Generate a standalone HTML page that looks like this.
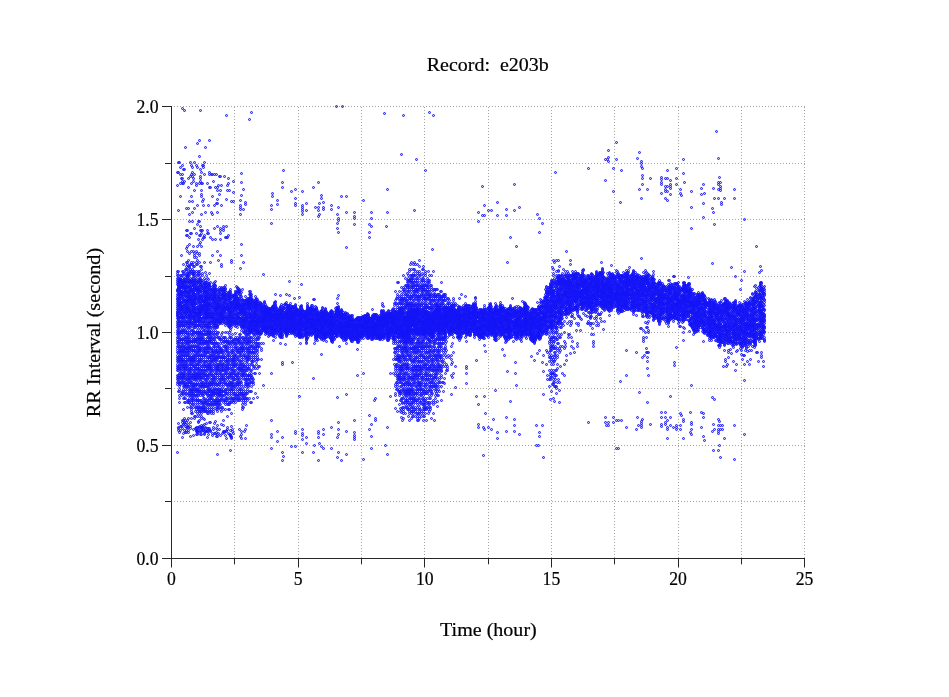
<!DOCTYPE html>
<html lang="en"><head><meta charset="utf-8"><title>Record: e203b</title>
<style>html,body{margin:0;padding:0;background:#fff}svg{display:block}</style></head>
<body>
<svg width="949" height="697" viewBox="0 0 949 697">
<defs><marker id="m" markerUnits="userSpaceOnUse" markerWidth="4" markerHeight="4" refX="2" refY="2" overflow="visible"><circle cx="2" cy="2" r="1.0" fill="#4a4aff" fill-opacity="0.3" stroke="#1414f6" stroke-width="0.97"/></marker></defs>
<rect width="949" height="697" fill="#fff"/>
<path d="M234.5 107v451M298.5 107v451M361.5 107v451M424.5 107v451M488.5 107v451M551.5 107v451M614.5 107v451M678.5 107v451M741.5 107v451M804.5 107v451M174 501.5H805M174 445.5H805M174 388.5H805M174 332.5H805M174 276.5H805M174 219.5H805M174 163.5H805M174 106.5H805" stroke="#a4a4a4" stroke-width="1" stroke-dasharray="1 2" fill="none" shape-rendering="crispEdges"/>
<path d="M171.5 106V567.5M162 558.5H805M165 501.5H172M162 445.5H172M165 388.5H172M162 332.5H172M165 276.5H172M162 219.5H172M165 163.5H172M162 106.5H172M234.5 558V564.3M298.5 558V567.5M361.5 558V564.3M424.5 558V567.5M488.5 558V564.3M551.5 558V567.5M614.5 558V564.3M678.5 558V567.5M741.5 558V564.3M804.5 558V567.5" stroke="#262626" stroke-width="1" fill="none"/>
<polyline transform="translate(.5 .5)" points="177,172 177,185 177,271 177,273 177,275 177,278 177,280 177,282 177,284 177,289 177,290 177,291 177,294 177,296 177,298 177,299 177,301 177,303 177,305 177,307 177,309 177,311 177,312 177,313 177,314 177,315 177,316 177,318 177,321 177,323 177,325 177,327 177,330 177,332 177,334 177,337 177,339 177,341 177,343 177,346 177,348 177,350 177,352 177,355 177,357 177,359 177,361 177,364 177,366 177,368 177,370 177,375 177,377 177,379 177,382 177,384 177,452 178,162 178,172 178,210 178,271 178,275 178,278 178,280 178,282 178,284 178,285 178,286 178,287 178,288 178,289 178,291 178,294 178,295 178,297 178,298 178,300 178,301 178,303 178,304 178,305 178,307 178,309 178,310 178,312 178,313 178,316 178,317 178,318 178,319 178,321 178,323 178,325 178,327 178,330 178,332 178,334 178,337 178,341 178,343 178,346 178,352 178,357 178,359 178,361 178,366 178,368 178,370 178,375 178,377 178,379 178,382 178,391 178,423 178,427 178,428 178,430 179,162 179,278 179,280 179,281 179,282 179,283 179,284 179,286 179,287 179,288 179,289 179,291 179,293 179,294 179,296 179,298 179,299 179,300 179,303 179,304 179,305 179,306 179,309 179,312 179,315 179,318 179,321 179,322 179,323 179,325 179,327 179,330 179,332 179,334 179,337 179,339 179,341 179,343 179,346 179,348 179,350 179,352 179,355 179,357 179,359 179,361 179,364 179,366 179,368 179,373 179,375 179,377 179,379 179,382 179,384 179,386 179,389 179,391 179,395 179,398 179,402 179,432 180,167 180,174 180,183 180,196 180,275 180,278 180,279 180,280 180,281 180,285 180,287 180,290 180,291 180,293 180,294 180,295 180,296 180,298 180,301 180,302 180,303 180,305 180,306 180,307 180,309 180,310 180,312 180,314 180,316 180,317 180,321 180,325 180,332 180,339 180,346 180,348 180,350 180,352 180,355 180,357 180,359 180,361 180,364 180,368 180,370 180,373 180,377 180,382 180,384 180,426 180,430 181,178 181,255 181,275 181,280 181,281 181,282 181,285 181,286 181,287 181,289 181,291 181,292 181,294 181,298 181,302 181,303 181,306 181,307 181,308 181,310 181,311 181,313 181,314 181,315 181,317 181,318 181,321 181,323 181,325 181,327 181,330 181,332 181,334 181,337 181,339 181,341 181,343 181,346 181,348 181,350 181,352 181,355 181,357 181,359 181,361 181,364 181,366 181,368 181,370 181,373 181,375 181,377 181,379 181,382 181,393 181,395 181,426 182,108 182,165 182,174 182,178 182,181 182,183 182,271 182,275 182,278 182,280 182,282 182,283 182,284 182,287 182,291 182,292 182,294 182,296 182,297 182,301 182,304 182,307 182,308 182,309 182,313 182,316 182,317 182,318 182,321 182,323 182,325 182,330 182,332 182,339 182,343 182,346 182,350 182,352 182,355 182,359 182,361 182,364 182,366 182,373 182,375 182,377 182,379 182,382 182,391 182,393 182,420 182,422 182,425 182,428 182,437 183,169 183,183 183,264 183,271 183,273 183,281 183,282 183,284 183,285 183,286 183,287 183,288 183,292 183,294 183,296 183,298 183,299 183,300 183,301 183,305 183,306 183,308 183,309 183,311 183,316 183,317 183,318 183,321 183,323 183,325 183,327 183,330 183,332 183,334 183,339 183,341 183,343 183,346 183,348 183,350 183,352 183,355 183,357 183,359 183,361 183,364 183,366 183,368 183,370 183,373 183,375 183,377 183,379 183,382 183,384 183,386 183,389 183,391 183,393 183,398 183,409 183,420 183,424 183,433 184,110 184,169 184,181 184,273 184,278 184,279 184,280 184,281 184,282 184,283 184,285 184,287 184,289 184,291 184,292 184,293 184,300 184,301 184,303 184,305 184,307 184,310 184,311 184,312 184,313 184,314 184,318 184,321 184,325 184,330 184,337 184,339 184,346 184,348 184,350 184,352 184,355 184,361 184,364 184,366 184,368 184,370 184,373 184,375 184,377 184,382 184,384 184,386 184,395 184,398 184,402 184,418 184,422 184,423 184,430 185,147 185,269 185,275 185,279 185,281 185,282 185,285 185,287 185,288 185,289 185,290 185,291 185,294 185,295 185,296 185,300 185,301 185,303 185,305 185,306 185,307 185,312 185,313 185,316 185,318 185,321 185,323 185,325 185,327 185,330 185,332 185,334 185,337 185,339 185,341 185,343 185,346 185,348 185,350 185,352 185,355 185,357 185,359 185,361 185,364 185,366 185,368 185,370 185,373 185,375 185,377 185,379 185,382 185,384 185,386 185,389 185,391 185,393 185,398 185,402 185,420 185,424 185,426 185,432 186,208 186,230 186,235 186,248 186,262 186,266 186,269 186,271 186,275 186,278 186,280 186,281 186,282 186,285 186,287 186,289 186,291 186,292 186,294 186,296 186,297 186,299 186,300 186,303 186,304 186,305 186,307 186,308 186,309 186,310 186,312 186,313 186,315 186,316 186,321 186,323 186,332 186,337 186,341 186,343 186,348 186,352 186,355 186,361 186,364 186,366 186,368 186,379 186,384 186,386 186,393 186,422 186,427 186,430 186,432 187,230 187,235 187,246 187,251 187,262 187,264 187,269 187,273 187,275 187,276 187,277 187,278 187,282 187,285 187,286 187,287 187,291 187,292 187,296 187,300 187,301 187,302 187,303 187,307 187,308 187,309 187,310 187,311 187,314 187,316 187,318 187,321 187,323 187,325 187,327 187,330 187,332 187,334 187,337 187,339 187,341 187,343 187,346 187,348 187,350 187,352 187,355 187,357 187,359 187,361 187,364 187,366 187,368 187,370 187,373 187,375 187,377 187,379 187,382 187,384 187,386 187,389 187,395 187,400 187,402 187,407 187,420 187,426 187,427 188,178 188,187 188,208 188,260 188,266 188,273 188,274 188,275 188,278 188,280 188,282 188,287 188,288 188,291 188,292 188,293 188,294 188,296 188,297 188,298 188,300 188,301 188,302 188,305 188,306 188,307 188,309 188,310 188,312 188,313 188,315 188,318 188,321 188,323 188,325 188,327 188,334 188,337 188,339 188,341 188,343 188,346 188,348 188,350 188,352 188,355 188,359 188,370 188,373 188,375 188,377 188,379 188,382 188,386 188,393 188,400 188,402 188,418 188,424 188,427 188,430 188,432 189,201 189,214 189,221 189,237 189,244 189,253 189,266 189,267 189,271 189,273 189,275 189,280 189,281 189,282 189,283 189,285 189,286 189,289 189,291 189,292 189,293 189,294 189,295 189,296 189,298 189,299 189,300 189,301 189,305 189,307 189,308 189,310 189,311 189,314 189,315 189,316 189,317 189,318 189,321 189,323 189,327 189,330 189,332 189,334 189,337 189,339 189,341 189,343 189,346 189,348 189,350 189,352 189,355 189,357 189,359 189,361 189,364 189,366 189,368 189,370 189,373 189,375 189,377 189,379 189,382 189,384 189,386 189,389 189,391 189,393 189,395 189,398 189,400 189,402 190,162 190,176 190,233 190,264 190,269 190,271 190,278 190,280 190,281 190,282 190,286 190,287 190,288 190,289 190,291 190,296 190,298 190,300 190,301 190,303 190,304 190,308 190,310 190,311 190,312 190,313 190,314 190,316 190,318 190,320 190,321 190,323 190,325 190,327 190,341 190,346 190,348 190,357 190,359 190,361 190,364 190,368 190,370 190,373 190,377 190,379 190,382 190,389 190,391 190,395 190,404 190,407 190,422 190,426 190,428 190,436 191,165 191,174 191,183 191,196 191,233 191,251 191,262 191,264 191,271 191,273 191,279 191,282 191,284 191,285 191,289 191,290 191,291 191,296 191,297 191,298 191,300 191,301 191,303 191,304 191,305 191,307 191,312 191,315 191,316 191,318 191,321 191,323 191,325 191,330 191,332 191,334 191,337 191,339 191,341 191,343 191,346 191,348 191,350 191,352 191,355 191,357 191,359 191,361 191,364 191,366 191,368 191,370 191,373 191,375 191,377 191,379 191,382 191,384 191,386 191,389 191,391 191,393 191,395 191,398 191,400 191,402 191,407 191,409 191,411 191,413 191,418 192,167 192,172 192,176 192,201 192,212 192,221 192,264 192,269 192,273 192,278 192,280 192,281 192,282 192,287 192,289 192,291 192,293 192,294 192,295 192,298 192,300 192,301 192,303 192,305 192,307 192,309 192,310 192,311 192,313 192,314 192,316 192,318 192,323 192,330 192,334 192,341 192,346 192,350 192,357 192,359 192,361 192,364 192,375 192,377 192,382 192,384 192,386 192,389 192,391 192,393 192,395 192,398 192,400 192,404 192,413 193,178 193,181 193,246 193,251 193,262 193,266 193,271 193,273 193,274 193,275 193,278 193,280 193,281 193,282 193,284 193,285 193,286 193,289 193,291 193,292 193,293 193,294 193,296 193,297 193,299 193,300 193,302 193,303 193,305 193,306 193,307 193,309 193,310 193,311 193,312 193,315 193,316 193,318 193,321 193,323 193,325 193,327 193,330 193,332 193,334 193,337 193,339 193,341 193,343 193,346 193,348 193,350 193,352 193,355 193,357 193,359 193,361 193,364 193,366 193,368 193,370 193,373 193,375 193,377 193,379 193,384 193,386 193,389 193,391 193,393 193,395 193,398 193,400 193,402 193,404 193,407 193,429 193,435 194,162 194,174 194,190 194,208 194,228 194,253 194,255 194,257 194,266 194,271 194,273 194,275 194,280 194,282 194,284 194,285 194,286 194,287 194,288 194,289 194,290 194,294 194,296 194,298 194,299 194,300 194,301 194,302 194,303 194,304 194,305 194,307 194,308 194,309 194,311 194,312 194,314 194,316 194,317 194,318 194,319 194,320 194,321 194,323 194,325 194,327 194,332 194,339 194,341 194,346 194,350 194,355 194,357 194,359 194,361 194,366 194,370 194,373 194,375 194,377 194,379 194,384 194,386 194,389 194,395 194,416 194,418 195,277 195,280 195,282 195,284 195,285 195,289 195,292 195,294 195,295 195,296 195,297 195,298 195,300 195,303 195,308 195,309 195,312 195,313 195,314 195,316 195,317 195,318 195,321 195,323 195,325 195,327 195,332 195,334 195,337 195,339 195,341 195,343 195,346 195,348 195,350 195,352 195,355 195,357 195,359 195,361 195,364 195,366 195,368 195,370 195,373 195,375 195,377 195,379 195,382 195,384 195,386 195,389 195,391 195,393 195,395 195,398 195,400 195,404 195,407 195,411 195,416 195,428 196,165 196,183 196,185 196,233 196,251 196,257 196,262 196,264 196,271 196,273 196,278 196,280 196,282 196,286 196,287 196,288 196,289 196,290 196,297 196,298 196,300 196,303 196,305 196,307 196,309 196,312 196,313 196,314 196,320 196,321 196,325 196,332 196,339 196,341 196,346 196,352 196,355 196,364 196,368 196,373 196,375 196,377 196,379 196,384 196,389 196,391 196,395 196,400 196,407 196,409 196,427 196,428 196,430 196,431 196,434 197,143 197,167 197,205 197,224 197,246 197,253 197,260 197,264 197,275 197,281 197,282 197,285 197,288 197,290 197,291 197,293 197,294 197,298 197,303 197,307 197,309 197,312 197,313 197,314 197,315 197,316 197,318 197,321 197,323 197,325 197,327 197,330 197,332 197,334 197,337 197,339 197,341 197,343 197,346 197,348 197,350 197,352 197,355 197,357 197,359 197,361 197,364 197,366 197,368 197,370 197,373 197,375 197,377 197,379 197,382 197,384 197,386 197,389 197,391 197,395 197,398 197,400 197,402 197,404 197,407 197,411 197,413 197,416 197,427 197,430 197,431 197,432 197,434 198,221 198,239 198,271 198,273 198,275 198,280 198,282 198,284 198,286 198,287 198,288 198,289 198,290 198,291 198,294 198,296 198,297 198,299 198,300 198,301 198,302 198,307 198,309 198,310 198,312 198,313 198,314 198,316 198,318 198,319 198,320 198,321 198,325 198,332 198,334 198,337 198,339 198,343 198,346 198,348 198,350 198,352 198,355 198,361 198,364 198,368 198,370 198,373 198,375 198,377 198,384 198,389 198,391 198,393 198,395 198,400 198,407 198,409 198,421 198,422 198,430 198,432 199,140 199,156 199,183 199,221 199,235 199,244 199,253 199,255 199,262 199,271 199,273 199,278 199,279 199,280 199,282 199,283 199,287 199,289 199,290 199,291 199,292 199,294 199,296 199,297 199,298 199,300 199,303 199,305 199,306 199,307 199,309 199,310 199,312 199,313 199,314 199,315 199,316 199,317 199,318 199,320 199,321 199,323 199,325 199,327 199,330 199,332 199,334 199,337 199,339 199,341 199,343 199,346 199,348 199,350 199,352 199,355 199,357 199,359 199,361 199,364 199,366 199,368 199,370 199,373 199,375 199,377 199,379 199,382 199,386 199,389 199,391 199,393 199,400 199,402 199,404 199,407 199,409 199,411 199,413 199,416 199,420 199,426 199,427 199,428 200,110 200,169 200,176 200,178 200,181 200,226 200,230 200,235 200,242 200,266 200,275 200,278 200,280 200,282 200,284 200,285 200,286 200,289 200,291 200,293 200,296 200,298 200,300 200,302 200,303 200,305 200,306 200,308 200,309 200,310 200,311 200,312 200,313 200,314 200,318 200,319 200,321 200,323 200,325 200,332 200,334 200,337 200,339 200,341 200,343 200,348 200,350 200,355 200,359 200,361 200,370 200,373 200,375 200,377 200,379 200,384 200,386 200,391 200,395 200,400 200,407 200,411 200,431 200,434 201,172 201,183 201,190 201,194 201,196 201,214 201,230 201,233 201,246 201,266 201,269 201,280 201,282 201,285 201,287 201,289 201,291 201,295 201,296 201,298 201,299 201,301 201,302 201,305 201,307 201,308 201,309 201,310 201,311 201,312 201,314 201,316 201,318 201,321 201,325 201,327 201,330 201,332 201,334 201,337 201,339 201,341 201,343 201,346 201,348 201,350 201,352 201,355 201,357 201,359 201,361 201,364 201,366 201,368 201,370 201,373 201,375 201,377 201,379 201,382 201,384 201,386 201,389 201,391 201,393 201,400 201,402 201,407 201,409 201,411 201,413 201,416 201,418 201,425 201,427 201,428 201,430 201,431 201,434 202,165 202,183 202,201 202,230 202,239 202,273 202,275 202,280 202,282 202,285 202,287 202,288 202,290 202,292 202,296 202,297 202,299 202,300 202,303 202,305 202,306 202,307 202,309 202,310 202,311 202,313 202,318 202,321 202,323 202,327 202,334 202,337 202,339 202,343 202,355 202,366 202,370 202,373 202,377 202,382 202,384 202,386 202,393 202,395 202,402 202,404 202,407 202,409 202,426 202,427 202,428 203,165 203,167 203,199 203,205 203,237 203,285 203,287 203,291 203,294 203,295 203,296 203,298 203,300 203,301 203,302 203,305 203,307 203,308 203,309 203,310 203,312 203,314 203,317 203,318 203,321 203,323 203,325 203,327 203,330 203,332 203,334 203,337 203,339 203,341 203,343 203,346 203,348 203,350 203,352 203,355 203,357 203,359 203,361 203,364 203,368 203,370 203,373 203,375 203,377 203,382 203,384 203,386 203,389 203,391 203,393 203,395 203,398 203,402 203,404 203,407 203,409 203,411 203,418 203,425 203,429 203,430 204,162 204,174 204,235 204,237 204,262 204,278 204,282 204,283 204,284 204,287 204,288 204,289 204,290 204,291 204,292 204,293 204,297 204,300 204,301 204,303 204,305 204,306 204,307 204,309 204,311 204,312 204,313 204,314 204,315 204,317 204,318 204,321 204,323 204,325 204,330 204,334 204,341 204,343 204,348 204,350 204,352 204,355 204,361 204,364 204,366 204,370 204,373 204,375 204,379 204,384 204,386 204,391 204,398 204,400 204,402 204,404 204,407 204,409 204,411 204,419 204,424 204,431 204,433 204,434 205,147 205,212 205,272 205,280 205,282 205,284 205,285 205,287 205,288 205,289 205,291 205,292 205,294 205,296 205,297 205,298 205,299 205,300 205,301 205,303 205,304 205,305 205,306 205,307 205,309 205,310 205,314 205,317 205,318 205,320 205,321 205,325 205,327 205,330 205,334 205,339 205,341 205,343 205,348 205,350 205,352 205,355 205,357 205,361 205,364 205,366 205,368 205,370 205,373 205,375 205,377 205,379 205,382 205,384 205,386 205,391 205,393 205,400 205,402 205,407 205,409 205,411 205,427 205,428 205,431 206,275 206,282 206,284 206,285 206,287 206,291 206,292 206,293 206,294 206,296 206,297 206,298 206,299 206,300 206,301 206,302 206,303 206,305 206,308 206,309 206,310 206,311 206,312 206,313 206,314 206,315 206,316 206,317 206,318 206,323 206,325 206,327 206,332 206,334 206,341 206,343 206,346 206,348 206,352 206,355 206,361 206,366 206,370 206,375 206,379 206,382 206,386 206,393 206,400 206,402 206,404 206,411 206,423 206,431 207,183 207,230 207,233 207,278 207,282 207,286 207,287 207,290 207,291 207,294 207,296 207,297 207,298 207,300 207,303 207,304 207,305 207,306 207,307 207,308 207,309 207,312 207,313 207,314 207,315 207,316 207,317 207,318 207,321 207,323 207,325 207,327 207,330 207,332 207,334 207,337 207,339 207,341 207,343 207,346 207,348 207,350 207,352 207,357 207,359 207,361 207,364 207,366 207,368 207,370 207,373 207,375 207,377 207,379 207,382 207,384 207,386 207,389 207,391 207,393 207,395 207,398 207,402 207,404 207,407 207,409 207,411 207,413 207,428 207,430 207,431 207,437 208,205 208,233 208,279 208,283 208,285 208,287 208,289 208,290 208,292 208,293 208,294 208,296 208,298 208,299 208,300 208,303 208,304 208,305 208,306 208,307 208,309 208,311 208,314 208,316 208,318 208,321 208,323 208,325 208,327 208,330 208,332 208,334 208,337 208,341 208,343 208,346 208,348 208,350 208,352 208,357 208,364 208,366 208,368 208,375 208,377 208,384 208,386 208,389 208,391 208,395 208,400 208,404 208,413 208,428 208,431 208,434 209,140 209,172 209,174 209,187 209,273 209,283 209,284 209,285 209,286 209,287 209,289 209,291 209,293 209,295 209,296 209,297 209,298 209,299 209,302 209,303 209,304 209,305 209,307 209,309 209,311 209,312 209,313 209,314 209,316 209,318 209,321 209,323 209,325 209,327 209,330 209,332 209,334 209,337 209,339 209,341 209,343 209,346 209,348 209,352 209,355 209,357 209,359 209,361 209,364 209,366 209,368 209,370 209,373 209,375 209,379 209,382 209,384 209,386 209,389 209,391 209,393 209,395 209,398 209,400 209,402 209,404 209,407 209,409 209,411 209,422 209,428 209,430 210,187 210,237 210,262 210,282 210,289 210,290 210,294 210,296 210,299 210,300 210,303 210,305 210,308 210,309 210,314 210,316 210,317 210,318 210,321 210,323 210,327 210,332 210,334 210,337 210,339 210,341 210,348 210,355 210,357 210,361 210,364 210,366 210,368 210,370 210,373 210,382 210,384 210,389 210,391 210,395 210,398 210,404 210,411 210,422 210,430 210,431 211,174 211,212 211,287 211,289 211,291 211,292 211,294 211,295 211,296 211,298 211,301 211,304 211,305 211,307 211,309 211,311 211,312 211,314 211,316 211,317 211,318 211,321 211,323 211,325 211,327 211,330 211,332 211,334 211,337 211,339 211,341 211,343 211,348 211,350 211,352 211,355 211,357 211,359 211,361 211,364 211,366 211,368 211,370 211,373 211,375 211,377 211,379 211,382 211,384 211,386 211,389 211,391 211,393 211,395 211,398 211,400 211,402 211,404 211,407 211,409 211,411 211,413 212,174 212,196 212,214 212,239 212,255 212,286 212,289 212,290 212,291 212,295 212,296 212,298 212,299 212,300 212,303 212,304 212,307 212,312 212,313 212,314 212,317 212,318 212,320 212,321 212,337 212,343 212,350 212,352 212,355 212,359 212,361 212,370 212,375 212,379 212,382 212,384 212,391 212,393 212,395 212,398 212,402 212,404 212,433 212,435 213,181 213,283 213,285 213,287 213,289 213,291 213,293 213,294 213,297 213,298 213,299 213,300 213,302 213,306 213,307 213,310 213,313 213,314 213,316 213,317 213,318 213,319 213,321 213,322 213,323 213,325 213,327 213,330 213,332 213,334 213,339 213,341 213,343 213,346 213,348 213,350 213,352 213,355 213,357 213,359 213,361 213,364 213,366 213,368 213,370 213,373 213,375 213,377 213,379 213,382 213,384 213,386 213,389 213,391 213,393 213,395 213,400 213,404 213,407 213,409 213,411 213,413 213,427 213,429 214,174 214,205 214,228 214,282 214,284 214,285 214,287 214,288 214,289 214,291 214,292 214,293 214,294 214,295 214,296 214,297 214,298 214,300 214,301 214,302 214,303 214,305 214,307 214,308 214,309 214,310 214,313 214,314 214,316 214,318 214,320 214,323 214,325 214,327 214,334 214,337 214,339 214,343 214,346 214,352 214,355 214,357 214,359 214,364 214,377 214,379 214,382 214,389 214,391 214,393 214,400 214,402 214,404 214,423 214,433 215,187 215,239 215,281 215,285 215,286 215,288 215,289 215,290 215,291 215,294 215,296 215,297 215,298 215,299 215,300 215,303 215,305 215,307 215,309 215,310 215,312 215,316 215,318 215,320 215,321 215,323 215,325 215,327 215,330 215,332 215,337 215,341 215,343 215,346 215,348 215,350 215,352 215,355 215,357 215,359 215,361 215,366 215,368 215,370 215,373 215,375 215,377 215,379 215,382 215,384 215,386 215,389 215,391 215,393 215,395 215,400 215,402 215,404 215,421 215,433 216,174 216,203 216,289 216,291 216,294 216,296 216,298 216,301 216,302 216,303 216,305 216,307 216,308 216,309 216,310 216,311 216,312 216,313 216,314 216,315 216,318 216,320 216,321 216,322 216,323 216,325 216,327 216,334 216,343 216,350 216,352 216,357 216,359 216,361 216,364 216,366 216,368 216,370 216,373 216,384 216,389 216,393 216,398 216,400 216,402 216,404 216,407 216,409 216,428 216,432 216,436 217,187 217,190 217,199 217,203 217,212 217,226 217,251 217,289 217,291 217,294 217,297 217,299 217,300 217,303 217,304 217,305 217,306 217,307 217,308 217,309 217,313 217,314 217,316 217,318 217,319 217,320 217,321 217,325 217,326 217,327 217,332 217,334 217,337 217,343 217,346 217,348 217,350 217,352 217,355 217,357 217,359 217,364 217,366 217,368 217,370 217,373 217,375 217,377 217,379 217,382 217,384 217,389 217,391 217,393 217,395 217,398 217,400 217,402 217,404 217,407 217,409 217,411 217,425 217,429 217,434 217,436 217,454 218,185 218,260 218,294 218,296 218,297 218,298 218,300 218,302 218,303 218,304 218,305 218,306 218,307 218,308 218,309 218,310 218,312 218,314 218,316 218,317 218,320 218,321 218,324 218,332 218,337 218,343 218,346 218,352 218,355 218,357 218,364 218,366 218,368 218,370 218,384 218,386 218,389 218,391 218,393 218,395 218,400 218,402 218,404 218,407 218,433 219,176 219,194 219,287 219,289 219,290 219,291 219,292 219,293 219,296 219,298 219,299 219,300 219,301 219,305 219,306 219,307 219,308 219,311 219,312 219,313 219,314 219,316 219,318 219,319 219,321 219,322 219,323 219,337 219,339 219,346 219,348 219,350 219,352 219,355 219,357 219,361 219,364 219,366 219,368 219,370 219,373 219,375 219,377 219,379 219,382 219,384 219,389 219,391 219,393 219,395 219,398 219,400 219,402 219,404 219,407 219,429 220,176 220,190 220,228 220,230 220,233 220,239 220,255 220,289 220,291 220,294 220,296 220,298 220,300 220,302 220,304 220,305 220,306 220,307 220,309 220,312 220,313 220,314 220,316 220,318 220,319 220,321 220,322 220,323 220,339 220,343 220,348 220,350 220,352 220,357 220,361 220,364 220,370 220,373 220,379 220,382 220,389 220,391 220,393 220,395 220,400 220,404 220,409 220,435 221,185 221,205 221,264 221,266 221,287 221,288 221,289 221,294 221,298 221,300 221,302 221,305 221,307 221,309 221,310 221,312 221,313 221,314 221,315 221,316 221,317 221,318 221,320 221,321 221,322 221,334 221,337 221,339 221,341 221,348 221,350 221,352 221,357 221,359 221,361 221,364 221,366 221,368 221,370 221,373 221,375 221,377 221,379 221,382 221,384 221,386 221,389 221,391 221,393 221,395 221,398 221,400 221,407 221,411 221,424 222,290 222,291 222,293 222,294 222,295 222,297 222,298 222,300 222,303 222,305 222,307 222,308 222,309 222,310 222,312 222,314 222,315 222,316 222,317 222,318 222,321 222,323 222,332 222,343 222,350 222,352 222,355 222,357 222,364 222,366 222,368 222,370 222,375 222,377 222,379 222,391 222,395 222,398 222,407 222,433 223,226 223,228 223,230 223,287 223,289 223,290 223,291 223,292 223,294 223,295 223,296 223,297 223,298 223,303 223,305 223,306 223,307 223,309 223,310 223,311 223,312 223,314 223,316 223,317 223,318 223,319 223,320 223,337 223,339 223,341 223,346 223,350 223,352 223,355 223,357 223,359 223,361 223,364 223,366 223,368 223,370 223,375 223,377 223,379 223,382 223,384 223,386 223,389 223,391 223,395 223,400 223,402 223,409 223,420 223,425 223,431 223,432 224,176 224,287 224,289 224,291 224,293 224,294 224,295 224,296 224,297 224,298 224,300 224,301 224,302 224,303 224,307 224,308 224,309 224,310 224,312 224,314 224,316 224,318 224,319 224,321 224,322 224,337 224,341 224,346 224,357 224,364 224,370 224,373 224,379 224,382 224,391 224,395 224,400 224,431 224,432 225,237 225,285 225,288 225,289 225,291 225,294 225,295 225,296 225,298 225,299 225,300 225,303 225,305 225,306 225,307 225,309 225,310 225,312 225,313 225,316 225,318 225,321 225,323 225,325 225,332 225,337 225,339 225,341 225,343 225,346 225,348 225,350 225,352 225,355 225,357 225,359 225,361 225,366 225,368 225,370 225,373 225,375 225,377 225,379 225,382 225,384 225,389 225,391 225,393 225,398 225,400 225,402 225,404 225,409 225,435 226,115 226,199 226,226 226,237 226,292 226,294 226,295 226,296 226,299 226,300 226,303 226,304 226,307 226,308 226,309 226,316 226,318 226,323 226,341 226,346 226,348 226,350 226,361 226,364 226,366 226,368 226,370 226,373 226,384 226,389 226,393 226,395 226,398 226,400 226,430 226,431 226,438 227,185 227,190 227,237 227,296 227,298 227,300 227,303 227,305 227,306 227,307 227,308 227,309 227,314 227,316 227,318 227,319 227,320 227,321 227,323 227,332 227,339 227,341 227,343 227,346 227,348 227,350 227,352 227,355 227,357 227,359 227,361 227,364 227,366 227,368 227,370 227,373 227,375 227,377 227,379 227,382 227,384 227,386 227,389 227,391 227,393 227,398 227,402 227,404 227,416 227,427 227,429 228,178 228,183 228,235 228,292 228,293 228,296 228,298 228,300 228,303 228,305 228,307 228,309 228,310 228,311 228,312 228,314 228,316 228,318 228,320 228,321 228,322 228,323 228,325 228,326 228,341 228,343 228,352 228,355 228,359 228,361 228,364 228,368 228,377 228,384 228,386 228,398 228,404 228,409 228,433 229,190 229,291 229,293 229,294 229,295 229,296 229,297 229,298 229,300 229,303 229,304 229,306 229,307 229,309 229,310 229,311 229,312 229,313 229,314 229,316 229,317 229,318 229,321 229,322 229,323 229,325 229,326 229,327 229,332 229,334 229,337 229,341 229,343 229,346 229,348 229,352 229,355 229,357 229,359 229,361 229,364 229,366 229,368 229,370 229,373 229,375 229,377 229,379 229,382 229,384 229,389 229,391 229,393 229,395 229,400 229,402 229,404 229,409 229,434 230,289 230,291 230,292 230,294 230,295 230,297 230,298 230,299 230,301 230,302 230,303 230,306 230,307 230,308 230,309 230,310 230,312 230,314 230,316 230,317 230,318 230,320 230,321 230,322 230,323 230,325 230,328 230,330 230,337 230,343 230,373 230,375 230,382 230,384 230,386 230,389 230,398 230,402 230,430 230,434 230,435 230,436 230,450 231,201 231,260 231,262 231,294 231,296 231,300 231,302 231,303 231,304 231,305 231,306 231,307 231,308 231,309 231,311 231,312 231,313 231,314 231,316 231,318 231,320 231,321 231,324 231,325 231,327 231,337 231,339 231,341 231,343 231,346 231,350 231,352 231,355 231,357 231,359 231,361 231,364 231,366 231,368 231,370 231,373 231,375 231,377 231,382 231,384 231,386 231,389 231,391 231,393 231,395 231,398 231,402 231,413 231,426 231,436 231,437 231,438 232,296 232,303 232,304 232,305 232,307 232,310 232,311 232,312 232,314 232,316 232,317 232,318 232,321 232,322 232,323 232,324 232,334 232,341 232,350 232,352 232,359 232,361 232,364 232,368 232,370 232,373 232,377 232,379 232,382 232,384 232,386 232,389 232,398 232,400 232,429 232,431 233,181 233,192 233,201 233,295 233,296 233,298 233,301 233,302 233,303 233,305 233,307 233,308 233,312 233,315 233,316 233,318 233,319 233,321 233,339 233,341 233,343 233,346 233,348 233,350 233,352 233,355 233,357 233,359 233,361 233,364 233,366 233,370 233,373 233,375 233,377 233,379 233,382 233,384 233,386 233,389 233,391 233,393 233,398 233,400 233,402 233,433 234,294 234,295 234,296 234,298 234,299 234,300 234,301 234,302 234,303 234,305 234,307 234,308 234,309 234,310 234,313 234,314 234,316 234,318 234,320 234,321 234,323 234,325 234,339 234,341 234,343 234,355 234,357 234,359 234,361 234,364 234,366 234,370 234,373 234,379 234,386 234,393 234,395 234,398 234,400 235,291 235,292 235,294 235,295 235,296 235,298 235,300 235,301 235,302 235,303 235,305 235,306 235,307 235,308 235,309 235,310 235,314 235,318 235,319 235,321 235,322 235,323 235,324 235,326 235,333 235,337 235,339 235,343 235,346 235,348 235,352 235,355 235,357 235,359 235,361 235,364 235,366 235,370 235,373 235,375 235,377 235,379 235,384 235,386 235,389 235,393 235,395 235,398 235,402 236,286 236,292 236,295 236,296 236,298 236,299 236,300 236,301 236,303 236,304 236,305 236,306 236,307 236,308 236,309 236,312 236,314 236,316 236,318 236,319 236,321 236,322 236,323 236,325 236,339 236,343 236,346 236,348 236,350 236,355 236,364 236,375 236,382 236,384 236,395 236,398 237,287 237,288 237,290 237,292 237,294 237,297 237,298 237,300 237,302 237,303 237,304 237,305 237,306 237,307 237,308 237,310 237,312 237,313 237,314 237,315 237,316 237,317 237,318 237,323 237,327 237,337 237,339 237,341 237,343 237,348 237,350 237,352 237,357 237,359 237,361 237,364 237,366 237,368 237,370 237,373 237,375 237,377 237,379 237,382 237,384 237,386 237,389 237,391 237,393 237,395 237,398 237,400 238,288 238,290 238,291 238,292 238,293 238,298 238,299 238,300 238,302 238,303 238,304 238,305 238,306 238,307 238,308 238,309 238,311 238,314 238,316 238,317 238,318 238,320 238,321 238,323 238,324 238,339 238,341 238,350 238,352 238,357 238,359 238,368 238,373 238,377 238,379 238,382 238,384 238,395 238,398 238,400 239,289 239,290 239,291 239,294 239,298 239,300 239,303 239,304 239,305 239,307 239,309 239,312 239,313 239,317 239,318 239,319 239,321 239,322 239,323 239,334 239,337 239,339 239,341 239,343 239,346 239,348 239,350 239,352 239,355 239,361 239,364 239,366 239,368 239,370 239,373 239,375 239,379 239,382 239,384 239,386 239,389 239,391 239,393 239,395 239,398 239,400 239,429 240,200 240,205 240,207 240,209 240,214 240,268 240,291 240,294 240,296 240,300 240,303 240,304 240,305 240,306 240,307 240,309 240,310 240,311 240,312 240,313 240,314 240,316 240,318 240,321 240,325 240,334 240,337 240,341 240,343 240,348 240,352 240,355 240,361 240,364 240,366 240,368 240,370 240,382 240,389 240,393 240,398 240,436 241,173 241,182 241,195 241,244 241,255 241,292 241,296 241,298 241,300 241,305 241,306 241,307 241,309 241,310 241,311 241,312 241,313 241,318 241,319 241,321 241,323 241,324 241,325 241,326 241,327 241,330 241,339 241,343 241,346 241,348 241,350 241,352 241,355 241,357 241,359 241,361 241,364 241,368 241,370 241,373 241,375 241,377 241,379 241,382 241,384 241,386 241,389 241,391 241,393 241,395 241,400 241,431 241,434 241,438 242,289 242,299 242,300 242,302 242,303 242,305 242,307 242,308 242,309 242,310 242,311 242,312 242,314 242,316 242,318 242,319 242,320 242,321 242,323 242,325 242,327 242,337 242,343 242,346 242,348 242,350 242,364 242,366 242,368 242,370 242,373 242,375 242,393 242,395 242,398 242,404 242,407 242,409 243,189 243,209 243,262 243,300 243,303 243,304 243,305 243,306 243,307 243,309 243,310 243,312 243,313 243,314 243,316 243,320 243,321 243,322 243,324 243,325 243,327 243,330 243,332 243,337 243,339 243,341 243,343 243,346 243,348 243,350 243,352 243,355 243,357 243,359 243,361 243,364 243,366 243,368 243,370 243,373 243,375 243,377 243,386 243,389 243,391 243,393 243,395 243,398 243,400 243,402 243,407 244,300 244,302 244,303 244,304 244,305 244,306 244,307 244,308 244,309 244,310 244,312 244,313 244,314 244,316 244,318 244,319 244,320 244,321 244,322 244,323 244,324 244,325 244,326 244,327 244,328 244,331 244,332 244,339 244,341 244,348 244,355 244,366 244,370 244,373 244,375 244,379 244,395 244,398 244,431 245,202 245,204 245,296 245,300 245,303 245,304 245,305 245,307 245,309 245,310 245,311 245,312 245,314 245,317 245,318 245,320 245,321 245,323 245,325 245,326 245,327 245,330 245,331 245,334 245,337 245,339 245,343 245,346 245,350 245,352 245,355 245,357 245,364 245,366 245,370 245,373 245,377 245,379 245,382 245,384 245,386 245,391 245,393 245,395 245,398 245,400 245,402 245,404 245,429 245,438 246,299 246,300 246,301 246,303 246,305 246,308 246,309 246,312 246,313 246,314 246,315 246,316 246,317 246,318 246,319 246,320 246,321 246,323 246,326 246,332 246,334 246,337 246,341 246,343 246,348 246,357 246,359 246,361 246,368 246,370 246,375 246,379 246,382 246,384 246,393 246,398 246,425 247,298 247,300 247,301 247,303 247,304 247,305 247,307 247,308 247,312 247,313 247,318 247,321 247,323 247,325 247,327 247,328 247,329 247,330 247,332 247,334 247,337 247,339 247,341 247,343 247,346 247,348 247,350 247,352 247,355 247,357 247,359 247,361 247,364 247,366 247,368 247,370 247,375 247,377 247,379 247,382 247,384 247,386 247,389 247,391 247,393 247,398 247,400 248,298 248,300 248,301 248,302 248,303 248,304 248,305 248,306 248,307 248,308 248,310 248,315 248,316 248,318 248,319 248,321 248,323 248,324 248,325 248,327 248,329 248,334 248,339 248,341 248,343 248,348 248,350 248,352 248,355 248,357 248,359 248,368 248,375 248,379 248,384 248,386 249,119 249,291 249,294 249,298 249,299 249,300 249,302 249,303 249,304 249,305 249,306 249,307 249,309 249,310 249,312 249,313 249,314 249,316 249,318 249,321 249,322 249,323 249,325 249,327 249,328 249,329 249,330 249,331 249,332 249,334 249,337 249,339 249,341 249,343 249,346 249,348 249,350 249,352 249,355 249,357 249,359 249,364 249,366 249,368 249,373 249,375 249,377 249,379 249,382 249,384 249,391 249,398 250,291 250,293 250,294 250,296 250,297 250,298 250,300 250,302 250,303 250,304 250,305 250,306 250,307 250,308 250,309 250,313 250,314 250,316 250,317 250,318 250,319 250,321 250,322 250,323 250,325 250,327 250,328 250,329 250,330 250,331 250,332 250,337 250,341 250,346 250,352 250,370 250,375 250,379 250,382 250,391 250,402 251,112 251,294 251,296 251,298 251,299 251,300 251,303 251,304 251,305 251,306 251,307 251,308 251,309 251,312 251,314 251,315 251,316 251,317 251,318 251,320 251,321 251,322 251,323 251,324 251,325 251,326 251,327 251,330 251,332 251,337 251,339 251,341 251,343 251,346 251,348 251,350 251,352 251,355 251,357 251,359 251,361 251,364 251,370 251,373 251,375 251,377 251,382 251,386 251,391 251,402 252,299 252,300 252,301 252,302 252,303 252,310 252,311 252,312 252,315 252,316 252,318 252,320 252,321 252,322 252,323 252,324 252,325 252,326 252,327 252,329 252,330 252,332 252,346 252,352 252,361 252,364 252,377 252,379 252,382 253,302 253,305 253,306 253,307 253,309 253,313 253,316 253,317 253,318 253,320 253,321 253,323 253,325 253,327 253,329 253,330 253,332 253,334 253,337 253,339 253,341 253,343 253,346 253,348 253,350 253,352 253,355 253,357 253,359 253,361 253,366 253,368 253,379 253,382 253,384 253,398 254,301 254,302 254,303 254,304 254,305 254,307 254,308 254,309 254,312 254,313 254,314 254,316 254,317 254,318 254,320 254,321 254,322 254,323 254,325 254,327 254,329 254,330 254,334 254,348 254,352 254,366 254,373 255,296 255,299 255,300 255,302 255,303 255,304 255,305 255,306 255,307 255,310 255,311 255,312 255,313 255,314 255,315 255,316 255,318 255,319 255,321 255,322 255,323 255,325 255,326 255,327 255,328 255,330 255,332 255,334 255,337 255,341 255,343 255,346 255,348 255,352 255,355 255,357 255,359 255,368 255,373 255,393 256,298 256,299 256,301 256,302 256,304 256,305 256,306 256,307 256,308 256,309 256,310 256,311 256,312 256,314 256,316 256,317 256,318 256,321 256,322 256,324 256,325 256,326 256,327 256,328 256,330 256,331 256,332 256,339 256,343 256,346 256,350 256,361 256,364 257,299 257,301 257,302 257,303 257,304 257,305 257,306 257,307 257,309 257,312 257,314 257,316 257,318 257,319 257,320 257,321 257,322 257,323 257,324 257,325 257,326 257,327 257,329 257,330 257,331 257,332 257,333 257,334 257,337 257,339 257,343 257,346 257,348 257,350 257,352 257,355 257,357 257,359 257,368 257,397 258,301 258,303 258,305 258,308 258,309 258,310 258,313 258,314 258,316 258,317 258,318 258,319 258,320 258,321 258,323 258,327 258,330 258,331 258,332 258,333 258,337 258,339 258,343 258,346 258,359 258,366 259,304 259,305 259,307 259,310 259,312 259,315 259,316 259,319 259,320 259,321 259,322 259,323 259,325 259,326 259,327 259,330 259,331 259,332 259,333 259,334 259,337 259,343 259,346 259,366 259,373 260,302 260,303 260,305 260,306 260,307 260,308 260,311 260,312 260,313 260,316 260,317 260,318 260,319 260,321 260,322 260,323 260,325 260,328 260,332 260,333 260,334 261,303 261,304 261,305 261,307 261,308 261,309 261,310 261,311 261,314 261,316 261,317 261,318 261,319 261,320 261,321 261,322 261,324 261,325 261,327 261,329 261,331 261,332 261,333 261,343 261,348 261,350 261,359 262,307 262,309 262,311 262,312 262,313 262,314 262,315 262,318 262,321 262,322 262,323 262,325 262,327 262,328 262,329 262,330 263,274 263,305 263,306 263,307 263,308 263,310 263,311 263,312 263,313 263,314 263,315 263,316 263,317 263,318 263,319 263,320 263,321 263,322 263,324 263,325 263,326 263,327 263,328 263,330 263,343 263,385 264,301 264,302 264,303 264,306 264,307 264,309 264,310 264,313 264,315 264,317 264,318 264,319 264,320 264,321 264,322 264,323 264,324 264,326 264,327 264,328 264,330 264,331 265,304 265,306 265,307 265,308 265,309 265,310 265,311 265,312 265,313 265,314 265,315 265,316 265,317 265,318 265,319 265,320 265,321 265,322 265,324 265,325 265,326 265,327 265,328 265,329 265,330 265,332 265,334 266,306 266,308 266,309 266,310 266,311 266,312 266,313 266,314 266,315 266,316 266,317 266,318 266,319 266,320 266,321 266,323 266,324 266,327 266,328 266,329 266,330 266,332 266,333 267,307 267,308 267,309 267,310 267,311 267,312 267,313 267,314 267,315 267,317 267,319 267,321 267,323 267,324 267,325 267,326 267,327 267,329 267,330 267,331 267,332 267,333 268,308 268,309 268,311 268,312 268,313 268,314 268,315 268,316 268,317 268,318 268,320 268,321 268,322 268,326 268,327 268,328 268,330 268,336 269,308 269,309 269,310 269,311 269,312 269,313 269,314 269,315 269,317 269,318 269,320 269,321 269,322 269,325 269,326 269,327 269,328 269,332 269,334 269,335 270,308 270,309 270,311 270,312 270,313 270,314 270,315 270,316 270,317 270,318 270,319 270,320 270,322 270,323 270,324 270,325 270,326 270,328 270,329 270,331 270,332 270,334 271,205 271,209 271,223 271,308 271,309 271,310 271,311 271,313 271,314 271,315 271,316 271,317 271,318 271,319 271,320 271,321 271,325 271,326 271,327 271,328 271,329 271,330 271,331 271,333 271,334 271,373 271,420 271,434 271,437 271,448 272,193 272,196 272,306 272,307 272,308 272,309 272,310 272,311 272,314 272,315 272,316 272,317 272,318 272,320 272,321 272,322 272,323 272,324 272,325 272,326 272,327 272,328 272,329 272,330 272,331 272,333 272,335 273,305 273,306 273,307 273,308 273,309 273,310 273,311 273,314 273,315 273,316 273,317 273,319 273,320 273,321 273,325 273,326 273,328 273,329 273,330 273,331 273,332 273,333 273,334 273,335 273,336 273,340 274,302 274,303 274,305 274,307 274,308 274,309 274,310 274,312 274,313 274,314 274,315 274,316 274,317 274,318 274,320 274,321 274,322 274,323 274,324 274,325 274,326 274,327 274,329 274,330 274,331 274,332 274,333 275,294 275,301 275,302 275,304 275,305 275,306 275,308 275,309 275,310 275,311 275,313 275,314 275,315 275,316 275,317 275,318 275,319 275,320 275,321 275,322 275,323 275,324 275,325 275,326 275,328 275,329 275,330 275,331 275,332 275,337 276,307 276,308 276,309 276,311 276,312 276,313 276,314 276,315 276,317 276,319 276,320 276,322 276,324 276,325 276,327 276,328 276,329 276,330 276,331 276,333 276,334 277,200 277,204 277,310 277,311 277,312 277,313 277,314 277,315 277,317 277,318 277,319 277,320 277,321 277,323 277,324 277,325 277,326 277,327 277,328 277,331 277,332 277,431 277,441 278,310 278,314 278,315 278,317 278,318 278,319 278,320 278,321 278,322 278,323 278,324 278,325 278,328 278,331 278,333 279,308 279,309 279,310 279,311 279,312 279,314 279,315 279,316 279,317 279,320 279,321 279,322 279,325 279,326 279,327 279,329 279,330 279,331 279,332 279,334 279,335 279,336 280,295 280,306 280,307 280,309 280,310 280,312 280,313 280,314 280,315 280,316 280,317 280,318 280,319 280,321 280,322 280,323 280,324 280,325 280,327 280,328 280,329 280,330 280,331 280,333 280,334 280,336 280,337 280,343 281,304 281,306 281,308 281,309 281,310 281,311 281,313 281,314 281,315 281,316 281,317 281,318 281,319 281,322 281,324 281,325 281,326 281,327 281,328 281,329 281,330 281,332 281,333 281,334 281,335 281,336 281,337 282,182 282,187 282,309 282,310 282,311 282,312 282,313 282,314 282,315 282,317 282,318 282,319 282,320 282,321 282,322 282,323 282,324 282,326 282,327 282,329 282,330 282,332 282,334 282,335 282,337 282,362 282,364 282,437 282,452 282,460 283,170 283,305 283,307 283,308 283,312 283,314 283,316 283,317 283,318 283,319 283,320 283,323 283,324 283,327 283,331 283,456 284,304 284,307 284,308 284,310 284,313 284,314 284,315 284,316 284,317 284,318 284,320 284,321 284,323 284,325 284,326 284,327 284,328 284,329 284,330 284,331 285,303 285,304 285,311 285,313 285,314 285,315 285,316 285,317 285,321 285,322 285,323 285,324 285,325 285,326 285,327 285,328 285,329 285,330 285,331 285,332 285,333 285,344 286,294 286,302 286,304 286,305 286,308 286,311 286,312 286,313 286,314 286,316 286,317 286,318 286,319 286,320 286,321 286,322 286,323 286,326 286,327 286,328 286,329 286,330 286,332 286,333 286,334 286,335 286,336 287,305 287,307 287,308 287,309 287,310 287,311 287,312 287,314 287,315 287,316 287,317 287,318 287,319 287,320 287,322 287,324 287,325 287,328 287,329 287,330 287,331 287,332 287,333 287,334 288,305 288,306 288,307 288,311 288,312 288,313 288,314 288,315 288,316 288,317 288,318 288,319 288,320 288,321 288,322 288,323 288,324 288,325 288,326 288,327 288,328 288,329 288,330 288,331 289,281 289,295 289,305 289,307 289,308 289,309 289,311 289,312 289,314 289,316 289,317 289,318 289,319 289,320 289,321 289,323 289,325 289,327 289,329 289,330 289,331 289,333 290,303 290,305 290,308 290,309 290,310 290,312 290,313 290,314 290,315 290,316 290,317 290,318 290,319 290,320 290,323 290,324 290,326 290,327 290,328 290,329 290,330 290,331 291,191 291,306 291,308 291,310 291,311 291,312 291,313 291,314 291,315 291,316 291,317 291,318 291,319 291,320 291,321 291,322 291,323 291,324 291,326 291,327 291,328 291,330 291,332 291,333 291,446 292,306 292,307 292,308 292,309 292,311 292,313 292,314 292,315 292,316 292,317 292,318 292,320 292,321 292,322 292,323 292,324 292,325 292,326 292,328 292,329 292,330 292,331 292,332 292,362 293,306 293,307 293,310 293,311 293,313 293,314 293,315 293,316 293,317 293,318 293,319 293,320 293,322 293,323 293,324 293,325 293,326 293,328 293,329 293,330 293,331 293,332 293,333 294,298 294,308 294,309 294,311 294,312 294,313 294,314 294,315 294,316 294,317 294,318 294,319 294,320 294,321 294,322 294,323 294,325 294,326 294,327 294,328 294,329 294,330 294,331 294,332 294,334 295,189 295,198 295,203 295,205 295,304 295,305 295,306 295,307 295,308 295,311 295,312 295,313 295,315 295,316 295,317 295,319 295,321 295,323 295,325 295,326 295,327 295,328 295,329 295,332 295,334 295,336 295,431 295,433 295,446 296,308 296,309 296,310 296,311 296,312 296,313 296,314 296,315 296,316 296,317 296,319 296,320 296,321 296,323 296,324 296,325 296,326 296,328 296,329 296,331 296,333 296,335 297,309 297,310 297,311 297,312 297,314 297,315 297,316 297,319 297,320 297,321 297,323 297,324 297,325 297,326 297,327 297,328 297,329 297,331 297,333 297,335 298,310 298,311 298,312 298,313 298,314 298,315 298,316 298,319 298,320 298,322 298,323 298,324 298,325 298,326 298,328 298,329 298,330 298,331 298,332 298,333 298,334 298,335 298,336 299,297 299,310 299,312 299,314 299,315 299,316 299,317 299,318 299,320 299,321 299,322 299,323 299,324 299,325 299,327 299,328 299,329 299,330 299,331 299,332 299,333 299,334 299,335 299,336 299,337 299,396 300,306 300,307 300,308 300,310 300,311 300,312 300,313 300,314 300,315 300,317 300,318 300,319 300,320 300,321 300,322 300,323 300,324 300,325 300,326 300,327 300,328 300,329 300,330 300,331 300,332 300,333 300,335 300,336 300,337 300,343 301,284 301,305 301,306 301,307 301,308 301,310 301,311 301,312 301,313 301,314 301,315 301,316 301,317 301,319 301,320 301,321 301,322 301,323 301,326 301,327 301,328 301,329 301,330 301,332 301,333 301,334 301,335 301,336 302,191 302,205 302,207 302,209 302,211 302,214 302,309 302,310 302,311 302,312 302,313 302,314 302,316 302,317 302,318 302,319 302,320 302,322 302,323 302,324 302,325 302,326 302,327 302,330 302,334 302,335 302,336 302,337 302,429 302,433 302,435 302,439 302,452 303,311 303,312 303,314 303,315 303,316 303,317 303,319 303,321 303,322 303,324 303,325 303,326 303,328 303,329 303,330 303,333 303,335 304,311 304,314 304,315 304,316 304,317 304,318 304,320 304,321 304,323 304,324 304,326 304,327 304,330 304,333 305,311 305,312 305,313 305,314 305,315 305,316 305,317 305,318 305,319 305,320 305,322 305,323 305,324 305,325 305,327 305,328 305,329 305,330 305,331 305,333 305,334 305,335 305,336 306,203 306,210 306,310 306,312 306,313 306,315 306,316 306,317 306,320 306,321 306,322 306,323 306,324 306,325 306,326 306,327 306,328 306,329 306,330 306,331 306,332 306,333 306,334 306,335 306,337 306,338 306,339 306,340 306,342 306,343 306,437 306,443 307,303 307,305 307,306 307,307 307,308 307,309 307,310 307,311 307,313 307,314 307,315 307,317 307,318 307,319 307,320 307,321 307,322 307,323 307,324 307,325 307,327 307,328 307,329 307,330 307,332 307,333 307,334 307,337 307,338 308,308 308,310 308,311 308,312 308,314 308,315 308,316 308,317 308,319 308,320 308,321 308,322 308,323 308,324 308,326 308,327 308,328 308,329 308,331 308,332 308,333 308,334 308,336 309,308 309,309 309,310 309,311 309,312 309,314 309,315 309,317 309,318 309,319 309,320 309,321 309,322 309,323 309,325 309,326 309,328 309,330 309,332 309,333 309,334 310,307 310,308 310,309 310,310 310,311 310,312 310,313 310,314 310,319 310,320 310,321 310,322 310,323 310,324 310,325 310,326 310,327 310,328 310,330 310,331 310,332 310,333 311,305 311,307 311,308 311,309 311,310 311,311 311,312 311,313 311,314 311,315 311,316 311,317 311,318 311,319 311,320 311,321 311,323 311,324 311,325 311,326 311,327 311,328 311,331 311,333 311,334 311,335 312,305 312,307 312,309 312,310 312,311 312,313 312,314 312,315 312,318 312,319 312,320 312,321 312,323 312,324 312,325 312,326 312,327 312,328 312,329 312,330 312,332 313,187 313,299 313,309 313,310 313,312 313,314 313,315 313,316 313,317 313,318 313,319 313,320 313,321 313,322 313,323 313,324 313,325 313,326 313,327 313,328 313,329 313,331 313,332 313,333 313,378 313,452 314,299 314,307 314,309 314,310 314,311 314,312 314,315 314,318 314,319 314,320 314,321 314,322 314,323 314,325 314,326 314,327 314,328 314,330 314,331 314,332 314,333 314,334 314,343 314,445 315,207 315,306 315,309 315,310 315,311 315,313 315,314 315,315 315,317 315,319 315,320 315,321 315,323 315,324 315,325 315,326 315,327 315,328 315,329 315,330 315,331 315,332 315,335 315,336 315,337 315,338 315,340 316,307 316,308 316,309 316,310 316,312 316,313 316,314 316,315 316,317 316,318 316,320 316,321 316,322 316,324 316,325 316,326 316,327 316,328 316,329 316,330 316,331 316,332 316,334 316,335 316,336 316,337 316,338 316,339 317,310 317,312 317,313 317,314 317,315 317,316 317,317 317,318 317,319 317,320 317,321 317,322 317,323 317,324 317,325 317,327 317,328 317,329 317,330 317,331 317,332 317,334 317,335 317,336 317,340 318,182 318,207 318,210 318,216 318,312 318,313 318,315 318,316 318,317 318,319 318,320 318,321 318,322 318,323 318,325 318,327 318,329 318,330 318,331 318,333 318,334 318,335 318,336 318,431 318,433 318,437 318,460 319,203 319,214 319,313 319,314 319,315 319,316 319,318 319,319 319,320 319,321 319,322 319,325 319,326 319,328 319,329 319,330 319,331 319,332 319,333 319,334 319,337 319,443 320,311 320,314 320,316 320,317 320,318 320,319 320,320 320,321 320,322 320,323 320,324 320,325 320,326 320,327 320,330 320,331 320,332 320,333 320,336 320,337 321,195 321,198 321,310 321,311 321,312 321,313 321,314 321,316 321,317 321,319 321,321 321,322 321,323 321,324 321,325 321,327 321,328 321,329 321,330 321,331 321,332 321,333 321,334 321,336 321,338 321,339 321,354 321,446 322,307 322,308 322,310 322,312 322,313 322,314 322,315 322,316 322,317 322,318 322,319 322,320 322,321 322,322 322,323 322,325 322,326 322,327 322,328 322,330 322,331 322,332 322,333 322,334 322,335 322,337 323,202 323,207 323,209 323,311 323,313 323,314 323,315 323,316 323,317 323,318 323,319 323,320 323,321 323,323 323,324 323,325 323,326 323,327 323,328 323,329 323,331 323,332 323,333 323,334 323,335 323,337 323,338 323,340 323,429 323,434 323,448 324,310 324,311 324,313 324,315 324,316 324,317 324,318 324,319 324,320 324,321 324,322 324,323 324,324 324,326 324,327 324,328 324,329 324,330 324,332 324,333 324,334 324,335 324,336 324,338 324,339 325,308 325,309 325,310 325,311 325,312 325,313 325,314 325,316 325,317 325,318 325,319 325,320 325,321 325,322 325,323 325,324 325,325 325,326 325,327 325,330 325,332 325,333 325,334 325,335 325,336 325,337 326,311 326,312 326,313 326,314 326,315 326,316 326,317 326,319 326,320 326,321 326,322 326,323 326,324 326,325 326,326 326,328 326,330 326,331 326,332 326,333 326,334 326,335 326,336 326,337 326,341 327,313 327,315 327,316 327,318 327,319 327,320 327,321 327,322 327,323 327,324 327,327 327,328 327,330 327,332 327,333 327,334 327,335 327,336 328,313 328,314 328,315 328,317 328,318 328,320 328,321 328,322 328,324 328,325 328,326 328,327 328,328 328,330 328,332 328,333 328,334 329,314 329,316 329,317 329,318 329,320 329,321 329,322 329,324 329,325 329,326 329,327 329,328 329,329 329,330 329,332 329,334 329,335 329,337 330,311 330,312 330,313 330,314 330,315 330,316 330,317 330,318 330,319 330,321 330,322 330,323 330,324 330,325 330,327 330,329 330,330 330,331 330,332 330,333 330,334 330,336 330,337 330,338 331,205 331,209 331,310 331,311 331,312 331,313 331,314 331,315 331,316 331,317 331,318 331,319 331,320 331,321 331,322 331,323 331,324 331,325 331,326 331,327 331,328 331,329 331,330 331,331 331,332 331,333 331,334 331,335 331,337 331,338 331,339 331,340 331,341 331,427 331,448 332,311 332,312 332,313 332,314 332,315 332,316 332,317 332,318 332,320 332,321 332,322 332,323 332,325 332,326 332,327 332,328 332,329 332,330 332,331 332,332 332,333 332,334 332,335 332,337 332,339 332,340 332,341 332,342 333,314 333,316 333,317 333,318 333,321 333,322 333,323 333,324 333,325 333,326 333,327 333,328 333,329 333,331 333,332 333,333 333,334 333,336 333,337 333,339 334,315 334,317 334,318 334,319 334,322 334,323 334,324 334,325 334,326 334,327 334,328 334,330 334,331 334,332 334,333 334,335 334,339 335,308 335,311 335,313 335,314 335,315 335,317 335,319 335,320 335,321 335,323 335,325 335,326 335,327 335,329 335,330 335,332 335,333 335,337 336,106 336,307 336,309 336,310 336,311 336,312 336,313 336,314 336,315 336,317 336,318 336,320 336,321 336,323 336,324 336,325 336,326 336,328 336,329 336,330 336,331 336,332 336,333 336,334 336,335 336,336 337,214 337,223 337,228 337,298 337,303 337,307 337,308 337,309 337,310 337,311 337,314 337,315 337,316 337,317 337,319 337,320 337,321 337,322 337,324 337,325 337,326 337,327 337,328 337,329 337,331 337,333 337,334 337,335 337,336 337,397 337,437 337,457 338,207 338,218 338,220 338,232 338,295 338,306 338,307 338,308 338,309 338,310 338,311 338,313 338,314 338,315 338,316 338,317 338,318 338,320 338,323 338,325 338,326 338,327 338,328 338,329 338,330 338,331 338,422 338,429 338,434 338,452 339,311 339,312 339,313 339,314 339,315 339,316 339,317 339,319 339,320 339,321 339,322 339,323 339,324 339,326 339,327 339,328 339,330 339,331 339,332 339,333 339,346 340,311 340,312 340,313 340,314 340,316 340,317 340,318 340,320 340,322 340,323 340,324 340,325 340,326 340,327 340,328 340,329 340,330 340,331 340,332 340,333 340,334 340,335 340,336 341,196 341,309 341,310 341,311 341,312 341,313 341,314 341,316 341,317 341,318 341,319 341,321 341,322 341,323 341,324 341,325 341,327 341,328 341,329 341,330 341,331 341,332 341,333 341,334 341,336 341,337 341,460 342,106 342,311 342,314 342,315 342,316 342,317 342,319 342,320 342,322 342,323 342,324 342,325 342,326 342,327 342,328 342,329 342,330 342,331 342,332 342,333 342,334 342,335 342,336 342,337 342,338 343,312 343,314 343,315 343,316 343,317 343,318 343,319 343,321 343,322 343,323 343,325 343,326 343,327 343,328 343,329 343,331 343,332 343,333 343,334 343,335 343,338 343,340 344,314 344,315 344,316 344,317 344,318 344,319 344,320 344,323 344,325 344,326 344,327 344,328 344,329 344,330 344,331 344,332 344,333 344,334 344,335 344,336 344,339 345,312 345,313 345,314 345,317 345,318 345,319 345,320 345,321 345,322 345,323 345,324 345,325 345,326 345,327 345,328 345,330 345,331 345,332 345,333 345,334 345,336 345,337 345,339 345,340 346,196 346,212 346,247 346,314 346,316 346,317 346,318 346,322 346,323 346,325 346,326 346,327 346,329 346,330 346,331 346,332 346,333 346,334 346,335 346,336 346,337 346,338 346,339 346,343 346,394 346,431 346,454 347,313 347,314 347,317 347,318 347,319 347,321 347,322 347,323 347,324 347,325 347,326 347,327 347,328 347,329 347,330 347,332 347,334 347,335 347,336 348,316 348,317 348,318 348,319 348,320 348,321 348,322 348,323 348,324 348,325 348,326 348,327 348,329 348,330 348,331 348,332 348,334 348,335 348,337 349,315 349,316 349,317 349,318 349,319 349,320 349,321 349,322 349,323 349,324 349,326 349,327 349,328 349,331 349,332 349,333 349,334 349,335 349,336 349,337 350,316 350,317 350,318 350,319 350,320 350,321 350,322 350,323 350,324 350,325 350,326 350,327 350,328 350,329 350,331 350,332 350,333 350,334 350,336 350,337 350,338 350,339 351,315 351,316 351,317 351,318 351,319 351,320 351,321 351,322 351,324 351,325 351,327 351,328 351,330 351,331 351,332 351,333 351,334 351,335 351,336 351,337 351,338 351,339 351,340 351,341 352,315 352,317 352,320 352,321 352,323 352,324 352,325 352,326 352,327 352,328 352,330 352,331 352,332 352,334 352,335 352,336 352,338 352,339 352,341 353,319 353,320 353,321 353,322 353,324 353,325 353,326 353,327 353,328 353,329 353,330 353,331 353,332 353,333 353,334 353,335 353,336 353,337 353,339 354,212 354,216 354,218 354,224 354,320 354,321 354,323 354,324 354,325 354,326 354,327 354,328 354,329 354,330 354,333 354,335 354,337 354,338 354,339 354,420 354,432 354,435 354,437 354,439 355,319 355,320 355,321 355,323 355,324 355,325 355,326 355,327 355,328 355,330 355,331 355,332 355,333 355,334 355,336 355,337 355,338 355,339 356,318 356,319 356,320 356,323 356,324 356,325 356,326 356,327 356,328 356,330 356,331 356,332 356,333 356,334 356,335 356,336 356,338 356,339 357,317 357,318 357,319 357,320 357,321 357,322 357,324 357,326 357,327 357,328 357,329 357,330 357,331 357,334 357,335 357,336 357,337 357,338 357,339 357,340 357,341 357,342 357,349 357,375 358,317 358,319 358,320 358,321 358,323 358,324 358,325 358,326 358,327 358,328 358,329 358,330 358,331 358,332 358,333 358,334 358,335 358,336 358,337 358,339 358,340 358,341 358,342 359,317 359,318 359,319 359,320 359,321 359,322 359,323 359,325 359,326 359,327 359,328 359,329 359,330 359,331 359,332 359,333 359,335 359,336 359,337 359,338 359,340 360,317 360,319 360,320 360,321 360,322 360,323 360,324 360,325 360,326 360,327 360,331 360,332 360,333 360,334 360,335 361,317 361,318 361,319 361,320 361,321 361,323 361,324 361,325 361,326 361,327 361,329 361,331 361,332 361,334 361,335 361,336 361,337 361,338 362,316 362,317 362,318 362,320 362,322 362,324 362,325 362,326 362,327 362,328 362,329 362,330 362,331 362,332 362,333 362,334 362,335 362,336 363,200 363,316 363,317 363,318 363,319 363,320 363,322 363,323 363,324 363,325 363,326 363,327 363,328 363,329 363,331 363,332 363,333 363,334 363,335 363,338 363,373 363,459 364,315 364,317 364,318 364,319 364,320 364,321 364,322 364,323 364,324 364,325 364,326 364,327 364,328 364,329 364,330 364,331 364,333 364,334 364,335 365,315 365,316 365,317 365,318 365,319 365,320 365,321 365,322 365,323 365,324 365,325 365,326 365,327 365,328 365,329 365,330 365,331 365,332 365,333 366,315 366,316 366,317 366,318 366,319 366,320 366,321 366,322 366,323 366,324 366,325 366,326 366,327 366,328 366,329 366,331 366,332 366,334 366,335 366,336 366,337 367,313 367,314 367,315 367,316 367,318 367,319 367,320 367,321 367,322 367,323 367,324 367,326 367,327 367,328 367,329 367,330 367,331 367,332 367,333 367,334 367,336 367,338 368,314 368,315 368,316 368,317 368,318 368,319 368,320 368,321 368,322 368,323 368,324 368,325 368,326 368,327 368,328 368,329 368,330 368,331 368,332 368,333 368,334 368,335 368,336 368,337 368,338 369,224 369,232 369,237 369,317 369,318 369,319 369,320 369,321 369,322 369,323 369,324 369,326 369,327 369,328 369,330 369,331 369,333 369,334 369,335 369,336 369,337 369,415 369,429 370,318 370,319 370,320 370,321 370,323 370,325 370,326 370,327 370,328 370,330 370,331 370,334 370,337 371,212 371,218 371,226 371,318 371,320 371,322 371,323 371,324 371,325 371,326 371,327 371,328 371,329 371,330 371,331 371,332 371,333 371,334 371,335 371,336 371,339 371,424 371,436 371,448 372,309 372,315 372,316 372,317 372,318 372,319 372,320 372,322 372,323 372,324 372,326 372,327 372,328 372,329 372,330 372,331 372,332 372,333 372,334 372,335 372,336 372,337 372,338 372,339 373,314 373,316 373,317 373,318 373,320 373,321 373,322 373,323 373,325 373,326 373,327 373,328 373,329 373,330 373,331 373,332 373,333 373,334 373,335 373,337 373,338 374,314 374,315 374,316 374,317 374,319 374,320 374,322 374,323 374,324 374,325 374,326 374,327 374,328 374,329 374,330 374,331 374,333 374,334 374,335 374,336 374,400 375,314 375,315 375,316 375,317 375,318 375,319 375,320 375,323 375,324 375,325 375,326 375,327 375,328 375,329 375,330 375,331 375,332 375,333 375,334 375,335 375,338 375,398 375,418 375,420 376,314 376,315 376,318 376,322 376,323 376,324 376,325 376,326 376,327 376,328 376,329 376,330 376,331 376,332 376,334 376,335 376,336 376,338 377,316 377,317 377,319 377,320 377,321 377,322 377,324 377,325 377,327 377,328 377,329 377,330 377,331 377,332 377,333 377,334 377,335 377,336 377,337 377,338 378,316 378,317 378,319 378,320 378,321 378,322 378,323 378,324 378,325 378,326 378,327 378,328 378,329 378,330 378,332 378,333 378,334 378,335 378,336 378,337 379,315 379,317 379,318 379,319 379,320 379,322 379,323 379,324 379,325 379,326 379,327 379,329 379,330 379,331 379,333 379,334 379,335 379,336 379,337 379,338 379,339 380,316 380,317 380,318 380,319 380,320 380,321 380,322 380,323 380,325 380,326 380,328 380,329 380,330 380,332 380,333 380,334 380,335 380,336 380,337 380,338 380,339 381,310 381,311 381,312 381,313 381,314 381,315 381,316 381,317 381,318 381,319 381,320 381,321 381,322 381,323 381,324 381,325 381,326 381,327 381,329 381,330 381,331 381,333 381,334 381,335 381,337 382,303 382,305 382,311 382,314 382,316 382,318 382,319 382,320 382,321 382,322 382,323 382,324 382,325 382,326 382,327 382,329 382,330 382,331 382,332 382,333 382,334 382,335 382,336 382,337 382,339 383,306 383,310 383,311 383,312 383,313 383,314 383,315 383,316 383,317 383,318 383,319 383,320 383,321 383,323 383,325 383,326 383,327 383,328 383,329 383,330 383,333 383,335 383,337 384,113 384,315 384,316 384,317 384,318 384,319 384,320 384,321 384,322 384,323 384,324 384,325 384,326 384,328 384,331 384,332 384,333 384,334 384,335 384,336 384,337 384,338 385,313 385,315 385,316 385,317 385,318 385,319 385,320 385,321 385,322 385,323 385,325 385,326 385,327 385,330 385,332 385,334 385,335 385,445 386,226 386,312 386,313 386,314 386,315 386,316 386,317 386,319 386,320 386,321 386,322 386,323 386,324 386,325 386,326 386,328 386,329 386,330 386,331 386,333 386,334 387,189 387,212 387,313 387,314 387,317 387,318 387,319 387,321 387,322 387,323 387,324 387,325 387,326 387,328 387,329 387,330 387,331 387,332 387,333 387,334 387,335 387,336 387,337 387,338 387,339 387,340 387,427 387,454 388,310 388,311 388,313 388,314 388,315 388,316 388,317 388,319 388,320 388,321 388,322 388,323 388,324 388,325 388,326 388,327 388,328 388,329 388,330 388,331 388,332 388,333 388,334 388,335 388,336 388,337 388,338 388,339 388,340 389,312 389,313 389,314 389,315 389,316 389,317 389,318 389,319 389,321 389,322 389,323 389,324 389,327 389,328 389,329 389,330 389,332 389,333 389,334 389,336 389,337 389,338 390,311 390,313 390,314 390,315 390,316 390,317 390,318 390,319 390,320 390,323 390,326 390,327 390,328 390,329 390,330 390,331 390,333 390,334 390,335 390,373 390,396 391,313 391,314 391,315 391,316 391,317 391,318 391,319 391,320 391,321 391,322 391,323 391,324 391,326 391,327 391,328 391,329 391,330 391,331 391,332 391,333 391,334 392,309 392,310 392,312 392,313 392,314 392,315 392,317 392,318 392,319 392,320 392,321 392,322 392,323 392,324 392,325 392,326 392,327 392,328 392,329 392,330 392,331 392,333 392,335 392,336 392,338 393,308 393,309 393,311 393,313 393,314 393,315 393,316 393,317 393,318 393,319 393,321 393,322 393,323 393,325 393,326 393,327 393,329 393,330 393,331 393,332 393,333 393,334 393,336 393,337 393,338 393,339 393,341 393,343 393,359 393,373 394,303 394,305 394,311 394,312 394,313 394,316 394,317 394,318 394,319 394,320 394,321 394,322 394,323 394,324 394,325 394,326 394,328 394,329 394,331 394,332 394,335 394,336 394,337 394,339 394,340 394,348 394,352 394,364 395,291 395,300 395,303 395,309 395,311 395,312 395,314 395,315 395,316 395,317 395,318 395,319 395,320 395,322 395,323 395,324 395,326 395,327 395,328 395,330 395,331 395,332 395,333 395,334 395,337 395,339 395,341 395,343 395,348 395,350 395,352 395,355 395,357 395,359 395,366 395,368 395,370 395,373 395,375 395,384 395,386 395,393 395,395 395,408 396,298 396,303 396,312 396,313 396,314 396,315 396,316 396,317 396,318 396,319 396,321 396,322 396,323 396,325 396,326 396,327 396,328 396,329 396,330 396,331 396,332 396,333 396,335 396,348 396,359 396,364 396,366 396,382 396,389 396,400 397,282 397,294 397,296 397,298 397,305 397,307 397,309 397,311 397,312 397,313 397,316 397,317 397,319 397,320 397,322 397,323 397,324 397,325 397,326 397,328 397,330 397,331 397,332 397,333 397,334 397,336 397,337 397,341 397,343 397,346 397,348 397,350 397,352 397,355 397,357 397,359 397,364 397,366 397,368 397,370 397,373 397,375 397,377 397,379 397,382 397,384 397,386 397,389 397,411 398,282 398,303 398,312 398,313 398,315 398,316 398,317 398,319 398,320 398,321 398,323 398,324 398,325 398,326 398,328 398,329 398,330 398,331 398,333 398,334 398,336 398,337 398,346 398,355 398,357 398,359 398,361 398,375 398,377 398,379 398,391 399,291 399,296 399,298 399,300 399,303 399,307 399,308 399,309 399,310 399,311 399,312 399,313 399,314 399,315 399,316 399,317 399,318 399,319 399,320 399,322 399,323 399,324 399,326 399,327 399,328 399,329 399,330 399,332 399,334 399,335 399,337 399,339 399,341 399,343 399,346 399,348 399,350 399,355 399,357 399,359 399,361 399,366 399,368 399,370 399,373 399,375 399,377 399,379 399,382 399,389 399,391 399,393 399,395 399,404 400,297 400,300 400,303 400,308 400,309 400,310 400,312 400,313 400,315 400,316 400,317 400,319 400,320 400,321 400,322 400,323 400,326 400,327 400,328 400,329 400,330 400,331 400,332 400,333 400,334 400,335 400,337 400,341 400,346 400,357 400,359 400,361 400,364 400,366 400,368 400,370 400,373 400,377 400,379 400,382 400,386 400,391 400,393 400,400 400,408 400,411 401,154 401,287 401,294 401,296 401,298 401,300 401,303 401,305 401,307 401,308 401,309 401,310 401,311 401,312 401,313 401,314 401,316 401,318 401,319 401,323 401,324 401,325 401,326 401,327 401,328 401,329 401,330 401,331 401,332 401,333 401,334 401,335 401,336 401,337 401,341 401,343 401,346 401,348 401,350 401,352 401,355 401,357 401,361 401,366 401,368 401,370 401,373 401,375 401,377 401,379 401,382 401,386 401,391 401,393 401,398 401,400 401,409 401,412 401,417 402,291 402,298 402,300 402,303 402,308 402,309 402,311 402,312 402,313 402,314 402,315 402,316 402,317 402,319 402,320 402,321 402,322 402,324 402,325 402,327 402,328 402,329 402,330 402,331 402,332 402,333 402,334 402,335 402,336 402,337 402,339 402,340 402,348 402,350 402,352 402,355 402,364 402,366 402,368 402,370 402,379 402,384 402,389 402,398 402,402 402,403 402,407 402,420 403,115 403,275 403,287 403,289 403,294 403,298 403,300 403,303 403,305 403,307 403,309 403,312 403,313 403,314 403,316 403,317 403,318 403,319 403,320 403,322 403,323 403,324 403,325 403,326 403,327 403,328 403,329 403,331 403,332 403,333 403,334 403,335 403,336 403,337 403,338 403,339 403,341 403,343 403,346 403,348 403,352 403,355 403,357 403,359 403,361 403,364 403,366 403,368 403,370 403,373 403,375 403,377 403,379 403,382 403,384 403,386 403,389 403,391 403,395 403,398 403,407 403,409 403,411 403,413 403,418 404,289 404,291 404,298 404,300 404,307 404,309 404,312 404,315 404,316 404,317 404,318 404,319 404,320 404,321 404,322 404,323 404,324 404,326 404,327 404,329 404,330 404,331 404,332 404,333 404,334 404,335 404,336 404,337 404,341 404,342 404,343 404,346 404,348 404,350 404,355 404,357 404,359 404,364 404,373 404,375 404,377 404,379 404,384 404,389 404,391 404,393 404,402 405,278 405,285 405,287 405,291 405,294 405,296 405,298 405,303 405,305 405,307 405,309 405,312 405,317 405,318 405,319 405,320 405,321 405,322 405,323 405,324 405,325 405,326 405,330 405,331 405,332 405,333 405,334 405,335 405,337 405,338 405,339 405,341 405,343 405,346 405,348 405,350 405,352 405,357 405,361 405,364 405,366 405,368 405,370 405,373 405,377 405,379 405,382 405,384 405,386 405,391 405,393 405,395 405,398 405,400 405,402 405,404 405,407 405,413 406,285 406,294 406,300 406,301 406,303 406,305 406,307 406,312 406,314 406,316 406,317 406,318 406,319 406,321 406,323 406,324 406,325 406,326 406,327 406,328 406,329 406,331 406,332 406,334 406,335 406,336 406,337 406,339 406,340 406,341 406,343 406,346 406,348 406,350 406,352 406,355 406,359 406,364 406,366 406,368 406,373 406,382 406,389 406,391 406,393 406,395 406,400 406,407 407,273 407,280 407,282 407,285 407,287 407,289 407,291 407,294 407,296 407,298 407,300 407,303 407,305 407,307 407,312 407,313 407,314 407,315 407,316 407,317 407,318 407,319 407,321 407,322 407,325 407,326 407,327 407,328 407,329 407,330 407,331 407,332 407,333 407,334 407,335 407,336 407,337 407,338 407,339 407,341 407,342 407,343 407,346 407,348 407,350 407,352 407,355 407,359 407,361 407,364 407,366 407,368 407,370 407,373 407,375 407,379 407,382 407,384 407,386 407,389 407,391 407,393 407,395 407,398 407,400 407,402 407,404 407,407 407,409 408,275 408,278 408,280 408,282 408,285 408,287 408,291 408,296 408,303 408,305 408,309 408,310 408,311 408,312 408,313 408,314 408,315 408,316 408,317 408,318 408,319 408,320 408,321 408,322 408,323 408,324 408,325 408,326 408,327 408,328 408,329 408,330 408,331 408,332 408,333 408,334 408,335 408,336 408,337 408,338 408,339 408,341 408,350 408,352 408,355 408,364 408,366 408,368 408,375 408,377 408,379 408,382 408,384 408,389 408,391 408,393 408,402 408,409 408,416 409,269 409,271 409,280 409,285 409,287 409,289 409,291 409,294 409,298 409,300 409,303 409,305 409,307 409,308 409,309 409,311 409,312 409,313 409,314 409,315 409,316 409,317 409,318 409,319 409,320 409,321 409,322 409,323 409,324 409,325 409,326 409,327 409,328 409,329 409,330 409,331 409,333 409,334 409,335 409,336 409,337 409,339 409,341 409,343 409,346 409,348 409,355 409,357 409,359 409,368 409,370 409,377 409,379 409,382 409,384 409,386 409,389 409,391 409,393 409,395 409,398 409,400 409,404 409,407 409,409 409,411 409,413 409,420 410,264 410,275 410,278 410,280 410,282 410,296 410,298 410,303 410,305 410,310 410,312 410,313 410,314 410,315 410,316 410,317 410,318 410,319 410,321 410,324 410,325 410,326 410,327 410,328 410,329 410,330 410,331 410,332 410,334 410,337 410,339 410,341 410,343 410,348 410,352 410,355 410,357 410,359 410,373 410,375 410,377 410,384 410,389 410,391 410,393 410,395 410,398 410,404 411,262 411,269 411,275 411,278 411,280 411,282 411,285 411,287 411,289 411,291 411,294 411,296 411,298 411,300 411,303 411,305 411,307 411,308 411,309 411,310 411,311 411,312 411,313 411,316 411,317 411,318 411,320 411,321 411,322 411,323 411,324 411,325 411,328 411,329 411,330 411,332 411,333 411,337 411,339 411,341 411,343 411,346 411,348 411,350 411,352 411,355 411,359 411,361 411,364 411,366 411,368 411,370 411,377 411,379 411,382 411,384 411,386 411,389 411,391 411,393 411,398 411,400 411,402 411,404 411,407 411,409 411,411 411,413 411,418 412,275 412,278 412,282 412,285 412,287 412,296 412,303 412,305 412,307 412,309 412,311 412,312 412,313 412,314 412,316 412,317 412,318 412,319 412,320 412,321 412,322 412,323 412,324 412,325 412,327 412,330 412,331 412,332 412,334 412,339 412,341 412,343 412,348 412,361 412,368 412,370 412,373 412,377 412,379 412,386 412,389 412,391 412,395 412,398 412,402 412,407 412,411 412,416 413,264 413,269 413,273 413,275 413,278 413,280 413,282 413,285 413,287 413,289 413,291 413,294 413,296 413,298 413,300 413,303 413,305 413,309 413,310 413,311 413,312 413,313 413,314 413,315 413,316 413,317 413,318 413,319 413,320 413,321 413,322 413,324 413,325 413,326 413,330 413,331 413,334 413,335 413,337 413,339 413,341 413,343 413,346 413,348 413,350 413,352 413,355 413,357 413,359 413,361 413,364 413,366 413,368 413,370 413,373 413,375 413,377 413,379 413,382 413,384 413,389 413,391 413,393 413,395 413,398 413,400 413,402 413,404 413,407 413,411 413,413 413,416 414,210 414,262 414,269 414,275 414,282 414,285 414,291 414,294 414,300 414,305 414,307 414,309 414,310 414,311 414,312 414,313 414,314 414,315 414,316 414,317 414,318 414,319 414,321 414,322 414,323 414,324 414,325 414,326 414,327 414,328 414,329 414,330 414,331 414,333 414,337 414,339 414,346 414,348 414,350 414,352 414,359 414,361 414,366 414,370 414,375 414,377 414,379 414,382 414,384 414,393 414,398 414,400 414,409 415,264 415,271 415,275 415,280 415,285 415,287 415,289 415,291 415,294 415,296 415,298 415,303 415,305 415,307 415,309 415,310 415,312 415,313 415,314 415,317 415,318 415,319 415,320 415,321 415,323 415,324 415,325 415,326 415,329 415,330 415,331 415,332 415,333 415,334 415,337 415,343 415,346 415,348 415,350 415,352 415,355 415,357 415,359 415,361 415,364 415,366 415,368 415,370 415,373 415,375 415,379 415,382 415,386 415,391 415,393 415,395 415,398 415,400 415,402 415,407 415,409 415,411 415,416 416,159 416,278 416,282 416,285 416,289 416,291 416,296 416,298 416,303 416,305 416,309 416,310 416,311 416,312 416,313 416,314 416,315 416,316 416,317 416,318 416,319 416,320 416,321 416,322 416,324 416,325 416,326 416,327 416,328 416,329 416,330 416,331 416,332 416,333 416,334 416,343 416,346 416,348 416,352 416,357 416,366 416,368 416,370 416,373 416,375 416,377 416,386 416,389 416,393 416,400 416,413 417,264 417,271 417,273 417,275 417,278 417,280 417,282 417,285 417,287 417,289 417,291 417,294 417,296 417,300 417,305 417,307 417,308 417,309 417,310 417,311 417,312 417,313 417,314 417,315 417,316 417,317 417,318 417,319 417,320 417,322 417,323 417,325 417,326 417,327 417,328 417,329 417,330 417,331 417,332 417,333 417,334 417,337 417,339 417,341 417,343 417,346 417,348 417,350 417,352 417,355 417,357 417,359 417,361 417,364 417,366 417,368 417,370 417,373 417,375 417,377 417,379 417,382 417,384 417,386 417,389 417,391 417,393 417,395 417,400 417,402 417,404 417,407 417,409 417,413 417,416 417,418 417,420 418,285 418,289 418,291 418,296 418,298 418,300 418,303 418,304 418,307 418,309 418,310 418,311 418,312 418,313 418,314 418,315 418,316 418,317 418,320 418,322 418,323 418,324 418,325 418,326 418,328 418,329 418,330 418,331 418,332 418,333 418,334 418,339 418,341 418,343 418,346 418,350 418,352 418,361 418,366 418,370 418,375 418,379 418,382 418,384 418,389 418,398 418,413 418,420 419,260 419,266 419,271 419,273 419,275 419,278 419,282 419,285 419,287 419,289 419,294 419,296 419,298 419,300 419,303 419,305 419,307 419,309 419,310 419,311 419,312 419,313 419,314 419,315 419,318 419,319 419,320 419,321 419,322 419,323 419,324 419,328 419,330 419,331 419,332 419,333 419,334 419,335 419,339 419,341 419,343 419,346 419,348 419,350 419,355 419,357 419,359 419,361 419,364 419,366 419,368 419,370 419,373 419,375 419,377 419,382 419,384 419,386 419,389 419,391 419,393 419,398 419,400 419,404 419,407 419,409 419,411 419,413 419,416 419,418 420,275 420,287 420,296 420,305 420,309 420,312 420,314 420,315 420,317 420,318 420,319 420,320 420,321 420,322 420,323 420,326 420,327 420,328 420,329 420,330 420,331 420,333 420,334 420,337 420,343 420,346 420,352 420,355 420,361 420,366 420,368 420,370 420,373 420,382 420,384 420,386 420,389 420,395 420,402 420,409 421,280 421,282 421,285 421,287 421,289 421,291 421,294 421,296 421,298 421,300 421,303 421,305 421,307 421,309 421,312 421,313 421,314 421,315 421,316 421,318 421,319 421,321 421,322 421,323 421,325 421,326 421,327 421,329 421,330 421,332 421,334 421,337 421,341 421,343 421,346 421,348 421,350 421,352 421,355 421,357 421,361 421,364 421,366 421,368 421,370 421,373 421,375 421,377 421,379 421,382 421,384 421,386 421,389 421,391 421,393 421,395 421,400 421,402 421,411 421,413 421,416 422,269 422,273 422,278 422,280 422,285 422,287 422,289 422,291 422,294 422,303 422,309 422,311 422,312 422,314 422,316 422,317 422,318 422,320 422,321 422,322 422,324 422,325 422,326 422,327 422,328 422,329 422,330 422,331 422,332 422,333 422,334 422,339 422,341 422,343 422,346 422,348 422,355 422,361 422,368 422,370 422,377 422,379 422,389 422,393 422,398 422,404 423,266 423,269 423,275 423,278 423,280 423,282 423,285 423,287 423,289 423,291 423,294 423,296 423,298 423,300 423,305 423,307 423,309 423,310 423,311 423,312 423,313 423,315 423,316 423,317 423,319 423,321 423,322 423,323 423,324 423,325 423,326 423,328 423,329 423,330 423,331 423,332 423,333 423,334 423,336 423,339 423,341 423,343 423,346 423,348 423,350 423,352 423,355 423,357 423,359 423,361 423,364 423,366 423,368 423,373 423,375 423,377 423,379 423,382 423,384 423,389 423,391 423,395 423,398 423,400 423,404 423,407 423,409 423,411 423,413 423,416 423,420 424,285 424,289 424,296 424,298 424,303 424,307 424,309 424,311 424,312 424,313 424,314 424,315 424,316 424,317 424,318 424,319 424,320 424,321 424,322 424,323 424,324 424,325 424,326 424,327 424,328 424,329 424,330 424,331 424,332 424,334 424,335 424,336 424,339 424,346 424,357 424,364 424,366 424,386 424,391 424,393 424,400 424,402 424,404 424,407 424,409 424,416 425,170 425,271 425,273 425,275 425,280 425,282 425,285 425,287 425,289 425,291 425,294 425,296 425,298 425,300 425,303 425,305 425,307 425,309 425,311 425,312 425,313 425,314 425,315 425,317 425,319 425,320 425,321 425,322 425,323 425,324 425,325 425,326 425,327 425,328 425,329 425,331 425,332 425,333 425,334 425,337 425,343 425,346 425,348 425,350 425,352 425,355 425,357 425,359 425,361 425,364 425,366 425,368 425,370 425,373 425,375 425,377 425,379 425,382 425,384 425,386 425,389 425,391 425,393 425,398 425,400 425,402 425,404 425,407 425,409 425,413 426,285 426,291 426,294 426,298 426,300 426,305 426,307 426,311 426,312 426,313 426,314 426,315 426,316 426,317 426,318 426,320 426,321 426,323 426,324 426,325 426,327 426,328 426,329 426,330 426,331 426,332 426,334 426,337 426,343 426,346 426,352 426,359 426,364 426,368 426,370 426,373 426,375 426,379 426,384 426,393 426,407 426,409 426,420 427,278 427,282 427,285 427,287 427,289 427,291 427,294 427,298 427,303 427,305 427,307 427,309 427,311 427,312 427,313 427,314 427,317 427,318 427,319 427,320 427,321 427,322 427,323 427,324 427,325 427,326 427,327 427,328 427,331 427,332 427,334 427,337 427,339 427,341 427,343 427,346 427,348 427,350 427,352 427,355 427,357 427,361 427,364 427,366 427,368 427,373 427,375 427,377 427,379 427,382 427,386 427,389 427,391 427,393 427,398 427,402 427,407 428,271 428,280 428,282 428,285 428,287 428,291 428,294 428,296 428,298 428,307 428,312 428,313 428,314 428,315 428,316 428,317 428,318 428,319 428,320 428,322 428,324 428,325 428,326 428,327 428,328 428,329 428,332 428,334 428,339 428,346 428,352 428,357 428,361 428,368 428,370 428,379 428,391 428,402 428,404 428,409 428,413 429,112 429,275 429,280 429,282 429,289 429,291 429,294 429,296 429,298 429,300 429,303 429,307 429,308 429,312 429,314 429,315 429,316 429,317 429,318 429,319 429,320 429,321 429,322 429,323 429,324 429,325 429,326 429,328 429,329 429,330 429,331 429,332 429,333 429,334 429,335 429,337 429,339 429,340 429,341 429,343 429,346 429,350 429,352 429,355 429,357 429,359 429,361 429,364 429,366 429,368 429,370 429,373 429,375 429,377 429,379 429,382 429,384 429,386 429,389 429,395 429,398 429,402 429,404 429,407 429,411 430,285 430,294 430,296 430,300 430,303 430,307 430,309 430,312 430,314 430,316 430,317 430,318 430,319 430,320 430,321 430,322 430,324 430,325 430,326 430,327 430,328 430,329 430,330 430,332 430,334 430,336 430,341 430,343 430,346 430,348 430,350 430,352 430,355 430,366 430,368 430,375 430,382 430,386 430,389 430,391 430,398 430,407 430,409 431,275 431,285 431,287 431,289 431,291 431,294 431,296 431,298 431,300 431,303 431,305 431,307 431,309 431,312 431,314 431,315 431,317 431,318 431,319 431,320 431,321 431,322 431,323 431,324 431,325 431,326 431,327 431,328 431,329 431,330 431,331 431,332 431,333 431,334 431,335 431,336 431,337 431,339 431,341 431,346 431,350 431,355 431,357 431,359 431,361 431,364 431,366 431,368 431,370 431,375 431,377 431,379 431,382 431,384 431,386 431,391 431,393 431,395 431,402 431,418 432,249 432,300 432,305 432,307 432,309 432,312 432,313 432,314 432,315 432,316 432,317 432,318 432,319 432,320 432,322 432,323 432,324 432,325 432,326 432,327 432,329 432,330 432,331 432,332 432,333 432,334 432,335 432,336 432,337 432,338 432,352 432,359 432,361 432,364 432,370 432,379 432,382 432,386 432,389 432,393 433,115 433,271 433,289 433,294 433,296 433,298 433,300 433,303 433,307 433,309 433,312 433,313 433,314 433,316 433,317 433,319 433,320 433,321 433,322 433,323 433,324 433,325 433,327 433,328 433,329 433,330 433,331 433,332 433,334 433,335 433,336 433,337 433,339 433,341 433,343 433,346 433,348 433,350 433,352 433,355 433,357 433,359 433,361 433,364 433,366 433,368 433,370 433,373 433,375 433,377 433,379 433,382 433,386 433,400 433,402 433,404 433,413 434,289 434,291 434,294 434,296 434,300 434,305 434,311 434,312 434,313 434,314 434,315 434,317 434,318 434,319 434,320 434,321 434,322 434,323 434,324 434,325 434,326 434,328 434,329 434,330 434,331 434,332 434,341 434,343 434,346 434,350 434,355 434,366 434,368 434,370 434,377 434,384 434,386 434,420 435,289 435,294 435,296 435,298 435,300 435,303 435,305 435,307 435,309 435,310 435,311 435,312 435,313 435,314 435,315 435,317 435,318 435,320 435,321 435,323 435,324 435,325 435,326 435,328 435,329 435,330 435,332 435,334 435,337 435,339 435,341 435,343 435,348 435,350 435,352 435,355 435,357 435,359 435,361 435,364 435,366 435,370 435,373 435,375 435,377 435,379 435,382 435,384 435,386 435,389 435,391 435,395 435,398 435,402 436,289 436,296 436,303 436,305 436,307 436,309 436,310 436,311 436,312 436,313 436,315 436,316 436,317 436,318 436,319 436,320 436,321 436,323 436,325 436,326 436,327 436,330 436,339 436,355 436,357 436,359 436,368 436,370 436,373 436,375 436,377 436,386 436,389 436,393 437,289 437,294 437,296 437,298 437,300 437,303 437,305 437,306 437,307 437,308 437,309 437,310 437,311 437,312 437,313 437,314 437,315 437,316 437,317 437,320 437,322 437,323 437,324 437,325 437,326 437,327 437,328 437,329 437,330 437,334 437,337 437,339 437,343 437,348 437,350 437,352 437,355 437,357 437,359 437,361 437,364 437,366 437,368 437,370 437,373 437,379 437,384 437,386 437,391 437,395 437,401 437,406 438,294 438,300 438,303 438,306 438,307 438,308 438,309 438,310 438,311 438,312 438,313 438,314 438,315 438,316 438,317 438,318 438,319 438,320 438,322 438,323 438,324 438,325 438,326 438,327 438,328 438,329 438,330 438,331 438,332 438,333 438,334 438,335 438,337 438,339 438,343 438,346 438,350 438,352 438,355 438,361 438,364 438,366 438,368 438,370 438,382 438,389 438,395 439,294 439,296 439,298 439,300 439,305 439,307 439,308 439,309 439,310 439,311 439,312 439,314 439,315 439,316 439,317 439,318 439,319 439,320 439,321 439,322 439,323 439,324 439,325 439,326 439,327 439,328 439,329 439,330 439,332 439,333 439,334 439,337 439,339 439,341 439,343 439,346 439,348 439,350 439,352 439,355 439,357 439,359 439,364 439,366 439,370 439,373 439,377 439,379 439,382 439,386 439,391 440,291 440,296 440,298 440,303 440,305 440,307 440,309 440,310 440,311 440,312 440,313 440,315 440,316 440,317 440,318 440,319 440,320 440,321 440,322 440,323 440,324 440,325 440,326 440,327 440,328 440,329 440,330 440,331 440,332 440,334 440,337 440,339 440,343 440,346 440,355 440,357 440,366 440,368 440,382 441,282 441,291 441,296 441,298 441,300 441,303 441,305 441,307 441,309 441,313 441,314 441,315 441,316 441,317 441,318 441,319 441,320 441,323 441,324 441,325 441,326 441,328 441,329 441,331 441,332 441,334 441,337 441,339 441,343 441,346 441,348 441,350 441,355 441,357 441,359 441,361 441,366 441,368 441,370 441,371 441,375 441,377 441,386 441,400 442,296 442,300 442,303 442,309 442,312 442,314 442,316 442,317 442,318 442,319 442,320 442,321 442,323 442,324 442,325 442,326 442,328 442,329 442,330 442,331 442,333 442,334 442,337 442,339 442,343 442,361 442,364 442,382 443,294 443,296 443,298 443,300 443,303 443,305 443,307 443,308 443,309 443,310 443,312 443,313 443,314 443,315 443,316 443,317 443,318 443,319 443,320 443,322 443,323 443,324 443,325 443,326 443,327 443,329 443,330 443,332 443,337 443,339 443,341 443,343 443,350 443,352 443,355 443,359 443,366 443,382 443,391 444,294 444,296 444,300 444,306 444,307 444,310 444,311 444,312 444,313 444,314 444,315 444,317 444,318 444,319 444,320 444,321 444,322 444,323 444,324 444,325 444,326 444,327 444,328 444,329 444,330 444,331 444,332 444,333 444,334 444,337 444,339 444,348 444,362 444,378 444,383 445,294 445,296 445,298 445,300 445,305 445,307 445,309 445,310 445,311 445,312 445,313 445,314 445,315 445,316 445,317 445,318 445,319 445,320 445,321 445,322 445,323 445,324 445,325 445,326 445,327 445,328 445,330 445,331 445,332 445,333 445,334 445,335 445,336 445,337 445,339 445,343 445,346 445,348 445,352 445,355 445,366 445,373 446,307 446,308 446,309 446,311 446,312 446,313 446,314 446,315 446,316 446,317 446,318 446,319 446,320 446,321 446,322 446,323 446,325 446,326 446,327 446,330 446,332 446,341 446,350 446,357 446,364 446,370 447,298 447,300 447,303 447,305 447,307 447,308 447,309 447,310 447,312 447,313 447,314 447,315 447,316 447,317 447,318 447,319 447,320 447,321 447,322 447,323 447,324 447,325 447,326 447,327 447,328 447,337 447,366 447,368 447,370 448,298 448,303 448,307 448,309 448,311 448,312 448,314 448,315 448,316 448,317 448,318 448,321 448,322 448,323 448,324 448,325 448,327 448,328 448,329 448,330 448,331 448,332 448,355 449,300 449,303 449,305 449,307 449,309 449,310 449,311 449,312 449,313 449,314 449,315 449,316 449,317 449,318 449,319 449,321 449,322 449,324 449,326 449,330 449,331 449,332 449,333 449,334 449,335 449,357 450,307 450,309 450,310 450,311 450,312 450,313 450,314 450,315 450,316 450,317 450,318 450,319 450,320 450,321 450,322 450,323 450,324 450,326 450,327 450,328 450,329 450,330 450,331 450,332 450,333 451,303 451,305 451,306 451,307 451,309 451,310 451,311 451,312 451,313 451,314 451,315 451,317 451,319 451,321 451,322 451,323 451,326 451,327 451,328 451,329 451,330 451,331 451,332 451,334 451,346 451,355 451,359 451,364 451,375 451,394 452,305 452,307 452,308 452,309 452,310 452,311 452,312 452,313 452,314 452,315 452,316 452,317 452,318 452,319 452,320 452,321 452,322 452,324 452,325 452,326 452,328 452,329 452,330 452,331 452,332 452,334 452,343 452,362 452,377 453,298 453,300 453,303 453,305 453,307 453,308 453,309 453,311 453,312 453,314 453,315 453,316 453,318 453,319 453,320 453,321 453,322 453,323 453,324 453,325 453,326 453,327 453,329 453,330 453,331 453,337 453,352 453,373 454,304 454,305 454,308 454,309 454,310 454,312 454,313 454,314 454,315 454,316 454,317 454,318 454,320 454,322 454,323 454,324 454,325 454,327 454,328 454,329 454,330 454,331 454,332 455,303 455,305 455,310 455,311 455,312 455,313 455,314 455,316 455,317 455,318 455,319 455,320 455,321 455,322 455,327 455,328 455,329 455,330 455,331 455,332 455,366 455,387 456,311 456,312 456,313 456,314 456,315 456,316 456,318 456,319 456,320 456,321 456,322 456,323 456,324 456,325 456,326 456,327 456,332 456,333 457,305 457,309 457,310 457,312 457,314 457,315 457,316 457,317 457,318 457,319 457,321 457,323 457,324 457,325 457,326 457,327 457,328 457,330 457,331 457,332 457,333 457,334 457,336 457,337 458,307 458,308 458,309 458,310 458,311 458,312 458,313 458,314 458,315 458,316 458,317 458,318 458,319 458,320 458,321 458,322 458,324 458,326 458,327 458,328 458,329 458,330 458,331 458,332 458,333 458,335 458,336 458,337 458,338 459,298 459,306 459,307 459,308 459,309 459,310 459,311 459,312 459,313 459,314 459,315 459,316 459,317 459,318 459,319 459,320 459,321 459,322 459,323 459,324 459,325 459,326 459,327 459,328 459,329 459,330 459,332 459,333 459,334 459,336 459,337 459,340 460,307 460,309 460,310 460,311 460,314 460,315 460,316 460,317 460,318 460,319 460,320 460,321 460,322 460,323 460,324 460,325 460,326 460,327 460,328 460,329 460,331 460,332 460,334 460,336 460,337 460,338 461,294 461,307 461,309 461,312 461,313 461,314 461,315 461,316 461,317 461,319 461,320 461,321 461,322 461,323 461,324 461,325 461,326 461,328 461,329 461,330 461,332 461,334 461,336 462,309 462,314 462,315 462,316 462,317 462,318 462,320 462,321 462,322 462,323 462,324 462,326 462,328 462,329 462,331 462,332 462,333 463,305 463,307 463,308 463,309 463,310 463,311 463,312 463,313 463,316 463,317 463,320 463,321 463,322 463,323 463,324 463,325 463,326 463,327 463,330 463,332 463,333 464,308 464,309 464,310 464,311 464,313 464,314 464,315 464,316 464,317 464,318 464,319 464,320 464,321 464,322 464,323 464,324 464,326 464,327 464,330 464,331 464,332 465,296 465,303 465,305 465,306 465,307 465,308 465,309 465,311 465,312 465,313 465,314 465,316 465,317 465,318 465,319 465,320 465,321 465,322 465,324 465,326 465,327 465,328 465,329 465,330 465,332 465,337 466,305 466,306 466,308 466,309 466,310 466,312 466,314 466,315 466,316 466,319 466,321 466,322 466,323 466,324 466,325 466,326 466,327 466,329 466,330 466,331 466,332 466,333 466,334 466,335 466,341 466,366 466,368 466,373 466,383 467,305 467,306 467,308 467,309 467,310 467,311 467,313 467,314 467,315 467,316 467,317 467,318 467,319 467,321 467,322 467,323 467,324 467,325 467,326 467,327 467,328 467,329 467,331 467,332 467,333 467,334 468,305 468,306 468,308 468,309 468,310 468,311 468,312 468,313 468,314 468,315 468,316 468,317 468,319 468,320 468,321 468,322 468,323 468,325 468,326 468,327 468,329 468,331 468,332 468,333 469,305 469,306 469,308 469,311 469,312 469,313 469,314 469,315 469,316 469,317 469,318 469,319 469,321 469,322 469,323 469,324 469,325 469,326 469,329 469,330 469,331 469,332 469,333 469,334 469,335 470,306 470,308 470,310 470,311 470,312 470,313 470,314 470,315 470,317 470,318 470,319 470,320 470,321 470,322 470,325 470,327 470,328 470,329 470,330 470,331 470,332 470,333 470,334 470,335 471,308 471,310 471,312 471,313 471,314 471,315 471,317 471,318 471,319 471,320 471,322 471,323 471,324 471,325 471,326 471,328 471,329 472,305 472,306 472,307 472,308 472,309 472,312 472,313 472,314 472,316 472,317 472,318 472,321 472,322 472,323 472,324 472,325 472,326 472,328 472,329 472,331 473,303 473,304 473,305 473,308 473,309 473,310 473,311 473,312 473,313 473,314 473,315 473,316 473,318 473,319 473,320 473,321 473,322 473,323 473,324 473,325 473,326 473,328 473,329 473,330 473,331 474,304 474,305 474,306 474,307 474,308 474,309 474,310 474,311 474,312 474,313 474,314 474,315 474,316 474,317 474,318 474,320 474,321 474,322 474,323 474,324 474,325 474,326 474,328 474,329 474,330 474,331 474,332 474,333 474,334 474,335 474,337 475,297 475,298 475,301 475,303 475,304 475,305 475,306 475,307 475,308 475,309 475,310 475,311 475,312 475,313 475,314 475,315 475,316 475,318 475,319 475,320 475,321 475,322 475,323 475,324 475,325 475,326 475,327 475,329 475,330 475,331 475,334 476,307 476,308 476,309 476,310 476,311 476,312 476,313 476,314 476,316 476,317 476,318 476,320 476,321 476,322 476,323 476,324 476,326 476,327 476,328 476,329 476,330 476,333 476,334 476,360 476,396 477,310 477,312 477,313 477,315 477,316 477,317 477,319 477,321 477,322 477,324 477,326 477,327 477,328 477,329 477,330 477,331 477,332 477,333 477,334 478,212 478,221 478,312 478,313 478,314 478,315 478,316 478,317 478,321 478,322 478,323 478,326 478,327 478,328 478,329 478,330 478,333 478,334 478,335 478,336 478,404 478,424 478,427 479,309 479,310 479,313 479,316 479,317 479,319 479,320 479,321 479,323 479,326 479,327 479,328 479,329 479,330 479,331 479,332 479,333 479,334 479,335 479,336 479,337 479,339 480,309 480,311 480,312 480,313 480,314 480,315 480,317 480,318 480,319 480,321 480,322 480,323 480,324 480,325 480,326 480,327 480,328 480,329 480,330 480,331 480,333 480,334 480,335 480,336 480,337 481,309 481,310 481,311 481,312 481,313 481,314 481,316 481,317 481,318 481,319 481,321 481,323 481,325 481,326 481,328 481,329 481,330 481,331 481,333 481,335 481,336 481,337 482,186 482,215 482,310 482,311 482,312 482,314 482,315 482,316 482,317 482,318 482,319 482,320 482,321 482,322 482,323 482,324 482,325 482,326 482,327 482,328 482,329 482,330 482,331 482,333 482,334 482,335 482,336 482,337 483,309 483,310 483,311 483,312 483,313 483,314 483,315 483,316 483,317 483,319 483,320 483,321 483,323 483,324 483,326 483,327 483,328 483,330 483,331 483,332 483,333 483,334 483,335 483,337 483,338 483,427 483,455 484,205 484,215 484,305 484,307 484,309 484,310 484,312 484,313 484,314 484,315 484,316 484,317 484,318 484,319 484,320 484,321 484,322 484,324 484,325 484,326 484,327 484,329 484,332 484,333 484,334 484,335 484,338 484,345 484,396 484,429 485,309 485,310 485,311 485,313 485,314 485,315 485,317 485,318 485,319 485,320 485,321 485,324 485,325 485,326 485,327 485,329 485,330 485,331 485,332 485,333 485,334 485,351 485,413 486,311 486,312 486,313 486,314 486,316 486,317 486,320 486,321 486,322 486,323 486,325 486,326 486,327 486,328 486,329 486,331 486,335 487,308 487,310 487,312 487,313 487,314 487,317 487,319 487,320 487,322 487,323 487,326 487,327 487,328 487,329 487,330 487,332 487,334 487,335 488,210 488,307 488,308 488,309 488,311 488,313 488,314 488,315 488,316 488,317 488,319 488,320 488,323 488,324 488,325 488,326 488,328 488,329 488,330 488,331 488,332 488,334 488,335 488,337 488,427 489,304 489,306 489,307 489,308 489,309 489,310 489,311 489,312 489,314 489,315 489,317 489,318 489,319 489,320 489,321 489,322 489,323 489,324 489,325 489,326 489,327 489,328 489,329 489,330 489,331 489,332 489,333 490,303 490,304 490,305 490,306 490,307 490,308 490,309 490,310 490,311 490,312 490,314 490,315 490,316 490,317 490,318 490,319 490,321 490,322 490,323 490,324 490,325 490,326 490,327 490,328 490,329 490,330 490,333 491,210 491,306 491,308 491,309 491,310 491,312 491,313 491,314 491,317 491,318 491,319 491,320 491,321 491,322 491,323 491,325 491,328 491,329 491,330 491,331 491,333 491,334 491,335 491,429 492,311 492,312 492,313 492,314 492,316 492,317 492,318 492,319 492,320 492,323 492,324 492,325 492,327 492,328 492,330 492,331 492,332 492,333 492,334 493,309 493,310 493,312 493,313 493,314 493,315 493,316 493,317 493,318 493,319 493,320 493,321 493,323 493,324 493,325 493,326 493,327 493,328 493,329 493,330 493,331 493,333 493,334 493,335 493,419 494,308 494,311 494,312 494,313 494,314 494,316 494,317 494,318 494,319 494,320 494,321 494,323 494,324 494,325 494,326 494,328 494,329 494,330 494,331 494,332 494,333 494,336 494,337 494,339 495,303 495,306 495,307 495,308 495,309 495,310 495,311 495,312 495,313 495,314 495,316 495,317 495,319 495,320 495,321 495,322 495,324 495,325 495,326 495,327 495,328 495,329 495,331 495,332 495,333 495,334 495,336 495,337 495,338 495,339 495,340 495,390 496,305 496,306 496,307 496,308 496,309 496,310 496,311 496,312 496,313 496,314 496,318 496,319 496,320 496,321 496,322 496,323 496,324 496,325 496,326 496,327 496,328 496,329 496,330 496,333 496,334 496,335 496,340 497,202 497,215 497,310 497,311 497,312 497,314 497,315 497,316 497,317 497,318 497,321 497,322 497,324 497,325 497,326 497,328 497,331 497,334 497,335 497,432 497,438 498,310 498,311 498,312 498,313 498,314 498,315 498,316 498,318 498,319 498,320 498,322 498,324 498,326 498,327 498,328 498,329 498,330 498,331 498,332 498,338 499,306 499,308 499,309 499,310 499,312 499,313 499,314 499,315 499,317 499,318 499,319 499,320 499,321 499,322 499,323 499,325 499,326 499,327 499,328 499,329 499,332 499,333 500,302 500,304 500,305 500,306 500,308 500,309 500,310 500,311 500,312 500,313 500,315 500,316 500,317 500,319 500,320 500,321 500,322 500,323 500,324 500,327 500,328 500,329 500,330 500,331 500,332 500,334 500,335 500,336 501,306 501,307 501,308 501,309 501,310 501,311 501,313 501,315 501,316 501,317 501,318 501,320 501,321 501,322 501,323 501,324 501,325 501,326 501,327 501,328 501,330 501,331 501,333 501,334 502,305 502,307 502,308 502,309 502,310 502,311 502,312 502,314 502,315 502,316 502,317 502,318 502,319 502,320 502,321 502,322 502,323 502,324 502,325 502,326 502,327 502,328 502,329 502,330 502,331 502,333 502,334 502,349 503,307 503,308 503,309 503,312 503,313 503,317 503,319 503,321 503,322 503,323 503,324 503,325 503,326 503,327 503,328 503,329 503,330 503,331 503,333 503,334 503,335 504,309 504,310 504,312 504,314 504,315 504,316 504,317 504,318 504,319 504,320 504,321 504,322 504,325 504,326 504,327 504,328 504,329 504,330 504,331 504,332 504,334 504,336 504,337 504,355 505,308 505,310 505,311 505,312 505,314 505,316 505,317 505,318 505,319 505,320 505,321 505,323 505,324 505,325 505,329 505,330 505,332 505,333 505,336 505,337 505,338 505,339 505,342 506,209 506,215 506,311 506,312 506,313 506,314 506,315 506,317 506,318 506,319 506,320 506,321 506,322 506,324 506,326 506,328 506,329 506,330 506,331 506,332 506,336 506,337 506,340 506,341 506,417 506,431 507,262 507,309 507,310 507,312 507,313 507,314 507,315 507,316 507,317 507,319 507,320 507,321 507,322 507,323 507,325 507,326 507,327 507,328 507,329 507,330 507,331 507,332 507,333 507,335 507,337 507,338 507,371 508,308 508,309 508,310 508,312 508,313 508,314 508,315 508,317 508,318 508,319 508,320 508,321 508,322 508,323 508,324 508,325 508,326 508,327 508,328 508,329 508,330 508,331 508,333 508,334 508,335 508,337 508,339 509,308 509,309 509,311 509,313 509,314 509,315 509,316 509,318 509,320 509,321 509,322 509,323 509,324 509,325 509,326 509,327 509,328 509,329 509,330 509,331 509,332 509,333 509,335 509,336 509,337 509,338 510,237 510,305 510,306 510,307 510,308 510,309 510,311 510,313 510,314 510,315 510,316 510,317 510,318 510,319 510,320 510,321 510,322 510,324 510,325 510,327 510,329 510,330 510,331 510,332 510,333 510,335 510,337 510,401 511,309 511,310 511,311 511,312 511,314 511,315 511,317 511,318 511,320 511,321 511,322 511,323 511,326 511,327 511,328 511,329 511,330 511,331 511,332 511,335 511,336 511,337 512,298 512,308 512,309 512,310 512,311 512,313 512,314 512,315 512,316 512,317 512,321 512,322 512,324 512,327 512,329 512,331 512,333 513,310 513,313 513,315 513,317 513,320 513,321 513,322 513,323 513,324 513,325 513,326 513,328 513,329 513,332 513,334 513,336 513,341 514,184 514,210 514,307 514,308 514,310 514,311 514,312 514,313 514,314 514,315 514,316 514,318 514,322 514,323 514,324 514,325 514,326 514,327 514,328 514,329 514,330 514,332 514,333 514,334 514,419 514,425 514,431 515,309 515,311 515,312 515,313 515,314 515,315 515,316 515,317 515,319 515,320 515,321 515,322 515,323 515,324 515,325 515,326 515,327 515,329 515,331 515,332 515,333 515,334 515,337 515,338 515,362 515,373 516,246 516,306 516,308 516,310 516,312 516,313 516,314 516,315 516,317 516,318 516,319 516,320 516,321 516,322 516,323 516,324 516,325 516,327 516,328 516,329 516,331 516,333 516,334 516,335 516,336 516,339 516,385 517,310 517,311 517,312 517,314 517,316 517,317 517,318 517,319 517,320 517,321 517,322 517,323 517,325 517,326 517,327 517,328 517,331 517,332 517,333 517,334 517,335 517,336 517,337 517,338 518,306 518,309 518,312 518,313 518,314 518,316 518,318 518,319 518,320 518,321 518,323 518,325 518,326 518,327 518,328 518,330 518,331 518,332 518,333 518,335 519,207 519,308 519,310 519,311 519,312 519,313 519,315 519,316 519,317 519,318 519,320 519,321 519,323 519,324 519,325 519,326 519,327 519,328 519,329 519,330 519,331 519,332 519,333 519,336 519,338 519,434 520,307 520,308 520,309 520,311 520,312 520,315 520,316 520,317 520,318 520,319 520,320 520,321 520,323 520,324 520,325 520,326 520,328 520,330 520,331 520,332 520,334 520,335 520,337 520,339 521,308 521,309 521,311 521,312 521,313 521,314 521,315 521,316 521,317 521,319 521,321 521,322 521,323 521,324 521,325 521,326 521,327 521,328 521,329 521,330 521,331 521,332 521,333 521,334 521,335 521,336 521,338 521,341 522,301 522,309 522,310 522,311 522,313 522,315 522,318 522,321 522,324 522,325 522,326 522,327 522,329 522,331 522,332 522,333 522,334 522,336 523,308 523,309 523,310 523,312 523,313 523,314 523,315 523,316 523,320 523,321 523,323 523,324 523,326 523,327 523,330 523,331 523,332 523,333 523,334 524,302 524,303 524,304 524,306 524,307 524,309 524,310 524,311 524,312 524,314 524,315 524,317 524,318 524,319 524,320 524,321 524,322 524,323 524,324 524,325 524,326 524,328 524,329 524,330 524,331 524,332 524,334 525,303 525,304 525,305 525,306 525,307 525,308 525,309 525,310 525,311 525,312 525,313 525,314 525,315 525,317 525,318 525,319 525,320 525,321 525,322 525,323 525,324 525,325 525,326 525,327 525,328 525,329 525,330 525,332 525,333 525,336 526,305 526,306 526,307 526,309 526,310 526,311 526,312 526,313 526,314 526,315 526,316 526,317 526,318 526,319 526,320 526,321 526,322 526,323 526,324 526,325 526,326 526,327 526,328 526,329 526,330 526,331 526,332 526,333 526,334 526,335 526,338 527,306 527,307 527,308 527,309 527,311 527,312 527,313 527,315 527,316 527,317 527,319 527,320 527,321 527,322 527,323 527,324 527,325 527,326 527,327 527,328 527,330 527,334 528,307 528,310 528,312 528,313 528,314 528,316 528,318 528,320 528,321 528,322 528,323 528,324 528,327 528,328 528,329 528,330 528,333 528,334 529,311 529,314 529,315 529,316 529,317 529,318 529,320 529,321 529,323 529,324 529,325 529,327 529,330 529,331 529,333 529,334 529,336 530,312 530,313 530,314 530,317 530,318 530,319 530,320 530,322 530,323 530,324 530,325 530,326 530,327 530,328 530,329 530,330 530,331 530,332 530,333 530,334 530,335 530,337 530,338 530,339 531,309 531,310 531,312 531,313 531,314 531,315 531,316 531,317 531,318 531,319 531,321 531,322 531,323 531,325 531,326 531,327 531,328 531,329 531,330 531,331 531,332 531,333 531,334 531,335 531,336 531,337 531,339 531,340 531,356 532,308 532,309 532,312 532,313 532,315 532,316 532,317 532,318 532,319 532,320 532,321 532,322 532,323 532,324 532,325 532,326 532,328 532,329 532,331 532,334 532,335 532,336 532,337 532,338 532,339 532,340 532,341 533,309 533,310 533,311 533,312 533,313 533,314 533,316 533,317 533,318 533,320 533,321 533,322 533,323 533,324 533,325 533,326 533,327 533,329 533,332 533,333 533,334 533,336 533,337 533,338 533,341 534,309 534,310 534,312 534,313 534,317 534,318 534,319 534,320 534,321 534,323 534,324 534,327 534,328 534,330 534,331 534,332 534,333 534,334 534,338 534,339 534,340 534,341 534,342 534,343 534,360 535,309 535,310 535,313 535,314 535,315 535,316 535,317 535,318 535,319 535,320 535,321 535,322 535,324 535,325 535,326 535,328 535,330 535,332 535,335 535,336 535,337 535,338 535,339 535,340 536,309 536,311 536,312 536,313 536,314 536,315 536,317 536,318 536,321 536,322 536,323 536,324 536,325 536,326 536,327 536,328 536,329 536,333 536,335 536,336 536,338 536,425 536,445 537,214 537,302 537,309 537,310 537,312 537,313 537,314 537,315 537,316 537,318 537,319 537,320 537,322 537,323 537,326 537,327 537,330 537,331 537,332 537,333 537,334 537,335 537,336 537,337 537,353 538,306 538,307 538,309 538,314 538,316 538,317 538,319 538,320 538,321 538,322 538,323 538,325 538,326 538,327 538,328 538,329 538,332 538,333 538,334 538,335 538,337 538,445 539,218 539,232 539,305 539,307 539,308 539,309 539,310 539,312 539,313 539,314 539,316 539,318 539,319 539,320 539,321 539,322 539,324 539,325 539,326 539,327 539,328 539,329 539,330 539,331 539,332 539,334 539,335 539,337 539,338 539,339 539,350 539,432 539,436 540,299 540,302 540,306 540,307 540,309 540,310 540,311 540,312 540,313 540,314 540,316 540,317 540,318 540,319 540,320 540,321 540,322 540,323 540,324 540,325 540,327 540,329 540,330 540,332 540,333 540,335 540,336 540,337 540,338 541,300 541,302 541,303 541,306 541,307 541,308 541,310 541,312 541,313 541,317 541,318 541,319 541,320 541,321 541,323 541,324 541,325 541,326 541,327 541,328 541,329 541,330 541,331 541,335 542,223 542,301 542,305 542,306 542,311 542,312 542,313 542,316 542,317 542,318 542,319 542,320 542,323 542,324 542,326 542,327 542,330 542,331 542,332 542,333 542,334 542,362 542,425 543,301 543,302 543,304 543,305 543,306 543,307 543,308 543,310 543,312 543,313 543,314 543,315 543,316 543,319 543,320 543,323 543,324 543,325 543,326 543,331 543,332 543,355 543,371 543,394 543,457 544,297 544,299 544,301 544,302 544,306 544,307 544,309 544,310 544,311 544,313 544,314 544,315 544,316 544,317 544,318 544,319 544,320 544,321 544,322 544,324 544,325 544,327 544,328 544,329 544,330 544,331 544,333 545,289 545,294 545,296 545,297 545,298 545,299 545,302 545,304 545,305 545,306 545,307 545,308 545,310 545,312 545,314 545,315 545,316 545,317 545,318 545,320 545,321 545,322 545,323 545,324 545,325 545,326 545,330 545,332 546,286 546,287 546,290 546,291 546,292 546,293 546,297 546,298 546,299 546,300 546,301 546,303 546,305 546,306 546,307 546,308 546,309 546,311 546,312 546,313 546,314 546,316 546,317 546,318 546,319 546,321 546,326 546,328 546,329 546,330 546,332 546,333 546,334 546,350 546,364 547,289 547,293 547,295 547,296 547,297 547,298 547,300 547,302 547,303 547,304 547,305 547,306 547,308 547,309 547,310 547,311 547,312 547,313 547,315 547,316 547,317 547,320 547,321 547,322 547,323 547,325 547,326 547,327 547,328 547,329 547,332 547,352 547,375 547,379 548,287 548,289 548,291 548,293 548,294 548,300 548,301 548,303 548,304 548,305 548,308 548,311 548,312 548,313 548,316 548,320 548,322 548,326 548,327 548,331 549,287 549,290 549,291 549,292 549,294 549,296 549,300 549,302 549,303 549,306 549,307 549,308 549,310 549,311 549,312 549,315 549,316 549,317 549,318 549,320 549,321 549,323 549,325 549,327 549,334 549,337 549,341 549,343 549,352 549,355 549,357 549,361 549,370 549,379 549,386 550,283 550,284 550,285 550,286 550,287 550,288 550,292 550,293 550,297 550,298 550,300 550,301 550,305 550,306 550,307 550,308 550,309 550,311 550,312 550,313 550,315 550,316 550,317 550,318 550,321 550,322 550,323 550,324 550,325 550,326 550,327 550,328 550,339 550,346 550,348 550,350 550,357 550,373 550,375 550,377 550,379 550,399 551,280 551,281 551,284 551,285 551,286 551,287 551,288 551,289 551,290 551,291 551,293 551,294 551,295 551,297 551,298 551,300 551,301 551,303 551,305 551,307 551,308 551,309 551,311 551,313 551,314 551,315 551,316 551,317 551,319 551,320 551,321 551,323 551,324 551,325 551,326 551,327 551,330 551,332 551,337 551,339 551,341 551,343 551,346 551,348 551,350 551,355 551,359 551,361 551,364 551,370 551,373 551,377 551,391 552,267 552,280 552,282 552,283 552,286 552,288 552,291 552,292 552,294 552,295 552,298 552,299 552,300 552,301 552,303 552,304 552,305 552,306 552,307 552,309 552,310 552,311 552,314 552,315 552,316 552,320 552,321 552,322 552,323 552,324 552,325 552,327 552,328 552,329 552,331 552,337 552,346 552,357 552,373 552,375 552,384 553,260 553,269 553,273 553,275 553,280 553,283 553,286 553,290 553,291 553,292 553,293 553,294 553,295 553,296 553,299 553,301 553,302 553,303 553,305 553,308 553,311 553,312 553,315 553,316 553,317 553,318 553,321 553,323 553,325 553,332 553,334 553,337 553,339 553,341 553,343 553,346 553,348 553,359 553,361 553,364 553,370 553,373 553,379 553,382 553,384 553,398 554,262 554,278 554,282 554,283 554,284 554,290 554,293 554,296 554,297 554,300 554,301 554,302 554,304 554,305 554,306 554,307 554,308 554,309 554,311 554,313 554,315 554,316 554,320 554,321 554,325 554,327 554,337 554,341 554,348 554,352 554,355 554,357 554,361 554,373 554,377 554,382 554,386 554,401 555,172 555,281 555,283 555,286 555,287 555,290 555,292 555,296 555,297 555,298 555,300 555,302 555,303 555,304 555,305 555,306 555,307 555,308 555,311 555,312 555,313 555,314 555,316 555,317 555,318 555,319 555,321 555,323 555,325 555,327 555,330 555,332 555,337 555,346 555,348 555,352 555,355 555,359 555,370 555,375 555,379 555,386 556,260 556,271 556,275 556,279 556,281 556,283 556,284 556,287 556,288 556,293 556,295 556,296 556,299 556,300 556,301 556,303 556,306 556,307 556,308 556,312 556,313 556,316 556,317 556,318 556,323 556,327 556,328 556,332 556,339 556,370 556,375 556,386 556,388 556,393 557,276 557,277 557,278 557,281 557,282 557,284 557,285 557,289 557,291 557,292 557,293 557,294 557,295 557,298 557,299 557,301 557,302 557,303 557,305 557,306 557,308 557,309 557,311 557,312 557,314 557,316 557,321 557,322 557,323 557,325 557,327 557,330 557,334 557,337 557,339 557,343 557,348 557,350 557,355 557,357 557,364 557,368 557,382 558,260 558,270 558,271 558,275 558,277 558,278 558,279 558,280 558,282 558,284 558,286 558,289 558,290 558,292 558,293 558,294 558,295 558,296 558,297 558,299 558,300 558,301 558,302 558,306 558,310 558,311 558,312 558,315 558,317 558,319 558,320 558,321 558,322 558,323 558,343 558,379 559,266 559,275 559,276 559,278 559,279 559,280 559,281 559,282 559,283 559,284 559,285 559,288 559,289 559,290 559,295 559,296 559,297 559,298 559,299 559,300 559,301 559,303 559,304 559,307 559,309 559,310 559,312 559,313 559,315 559,317 559,318 559,319 559,320 559,321 559,323 559,334 559,337 559,348 559,352 559,382 559,390 559,402 560,276 560,278 560,279 560,280 560,281 560,282 560,283 560,284 560,287 560,289 560,290 560,292 560,293 560,296 560,298 560,299 560,300 560,301 560,303 560,304 560,306 560,307 560,308 560,310 560,311 560,312 560,313 560,314 560,317 560,318 560,321 560,322 560,325 560,327 560,337 560,346 560,350 560,366 561,275 561,277 561,280 561,281 561,282 561,284 561,285 561,286 561,287 561,288 561,289 561,290 561,291 561,293 561,294 561,295 561,297 561,298 561,300 561,301 561,302 561,305 561,306 561,307 561,308 561,311 561,313 561,314 561,315 561,316 561,318 561,319 561,323 561,327 561,334 562,273 562,275 562,276 562,278 562,279 562,280 562,281 562,282 562,283 562,284 562,287 562,292 562,295 562,296 562,297 562,299 562,300 562,302 562,303 562,304 562,305 562,307 562,308 562,311 562,312 562,313 562,315 562,318 562,323 562,346 562,373 563,269 563,278 563,279 563,280 563,282 563,283 563,285 563,286 563,287 563,289 563,291 563,293 563,294 563,295 563,296 563,298 563,299 563,300 563,301 563,303 563,305 563,306 563,307 563,310 563,325 564,276 564,280 564,281 564,282 564,283 564,284 564,286 564,287 564,289 564,290 564,291 564,292 564,293 564,294 564,295 564,297 564,302 564,303 564,304 564,306 564,312 564,314 564,321 564,332 564,341 564,348 564,364 564,375 565,271 565,274 565,275 565,278 565,280 565,281 565,282 565,283 565,284 565,285 565,287 565,288 565,291 565,292 565,293 565,294 565,295 565,296 565,297 565,300 565,301 565,302 565,303 565,305 565,308 565,309 565,310 565,311 565,313 565,314 565,343 565,346 566,251 566,275 566,277 566,279 566,281 566,282 566,283 566,284 566,285 566,288 566,289 566,290 566,291 566,293 566,294 566,295 566,296 566,297 566,299 566,301 566,302 566,304 566,307 566,308 566,309 566,310 566,311 566,312 566,313 566,314 566,317 566,355 566,360 567,271 567,274 567,275 567,277 567,278 567,281 567,283 567,284 567,285 567,286 567,288 567,289 567,291 567,292 567,293 567,294 567,295 567,296 567,297 567,298 567,299 567,300 567,301 567,302 567,303 567,304 567,306 567,308 567,309 567,310 567,311 567,312 567,313 567,323 568,273 568,277 568,278 568,279 568,280 568,281 568,282 568,283 568,284 568,285 568,286 568,287 568,288 568,290 568,291 568,292 568,293 568,296 568,297 568,298 568,299 568,300 568,301 568,302 568,304 568,305 568,313 568,314 568,334 568,337 569,275 569,276 569,280 569,281 569,282 569,284 569,285 569,286 569,288 569,289 569,290 569,291 569,293 569,295 569,298 569,301 569,302 569,304 569,305 569,306 569,307 569,308 569,309 569,312 569,321 569,334 570,260 570,264 570,275 570,276 570,278 570,280 570,282 570,283 570,286 570,288 570,289 570,292 570,293 570,294 570,295 570,296 570,297 570,298 570,299 570,302 570,303 570,304 570,305 570,306 570,307 570,308 570,309 570,310 570,311 570,312 570,325 570,353 571,275 571,277 571,279 571,280 571,282 571,283 571,284 571,285 571,286 571,287 571,289 571,290 571,292 571,293 571,294 571,296 571,297 571,298 571,300 571,301 571,303 571,306 571,307 571,309 571,311 571,316 571,321 571,323 571,337 571,346 572,271 572,274 572,275 572,276 572,278 572,279 572,282 572,283 572,285 572,286 572,288 572,289 572,290 572,291 572,292 572,294 572,295 572,297 572,300 572,301 572,303 572,304 572,305 572,309 572,314 572,316 572,341 573,273 573,274 573,275 573,276 573,277 573,278 573,279 573,280 573,281 573,284 573,285 573,286 573,287 573,290 573,291 573,293 573,294 573,295 573,297 573,298 573,300 573,301 573,302 573,307 573,309 573,310 573,348 574,274 574,275 574,276 574,277 574,279 574,282 574,283 574,285 574,287 574,289 574,290 574,291 574,292 574,293 574,295 574,297 574,298 574,299 574,305 574,307 574,308 574,309 574,318 574,352 575,271 575,273 575,274 575,275 575,276 575,277 575,278 575,279 575,280 575,282 575,285 575,286 575,287 575,290 575,291 575,292 575,293 575,295 575,296 575,297 575,299 575,300 575,301 575,302 575,306 575,307 575,308 576,273 576,274 576,275 576,276 576,277 576,278 576,279 576,282 576,284 576,285 576,287 576,288 576,289 576,291 576,292 576,293 576,295 576,296 576,297 576,298 576,299 576,300 576,301 576,302 576,303 576,305 576,306 576,307 576,308 576,309 576,310 576,323 576,330 577,273 577,274 577,275 577,277 577,278 577,280 577,281 577,282 577,283 577,284 577,285 577,286 577,287 577,288 577,290 577,291 577,292 577,293 577,295 577,296 577,297 577,301 577,305 577,306 577,307 577,308 577,309 577,311 577,312 577,314 577,343 577,346 578,273 578,274 578,279 578,280 578,281 578,283 578,284 578,285 578,287 578,288 578,289 578,290 578,292 578,293 578,294 578,295 578,297 578,298 578,299 578,300 578,303 578,304 578,307 578,309 578,316 578,323 578,325 579,275 579,277 579,278 579,283 579,284 579,285 579,288 579,289 579,291 579,293 579,294 579,295 579,298 579,304 579,316 580,275 580,276 580,277 580,278 580,280 580,281 580,282 580,284 580,285 580,286 580,287 580,291 580,292 580,293 580,294 580,296 580,297 580,300 580,301 580,302 580,304 580,306 580,318 580,330 581,275 581,277 581,278 581,279 581,280 581,281 581,282 581,283 581,284 581,285 581,286 581,290 581,291 581,292 581,293 581,294 581,295 581,296 581,297 581,298 581,300 581,301 581,302 581,303 581,304 581,305 581,308 581,309 581,319 582,270 582,272 582,273 582,274 582,275 582,276 582,278 582,279 582,281 582,282 582,283 582,284 582,285 582,286 582,289 582,290 582,291 582,292 582,293 582,295 582,296 582,297 582,298 582,299 582,300 582,303 582,304 582,305 582,307 582,308 582,309 583,269 583,270 583,275 583,276 583,277 583,280 583,281 583,282 583,283 583,285 583,286 583,287 583,289 583,290 583,291 583,292 583,293 583,296 583,297 583,298 583,301 583,302 583,303 583,304 583,306 583,307 583,308 583,313 584,275 584,277 584,279 584,280 584,282 584,283 584,285 584,286 584,287 584,288 584,289 584,290 584,291 584,292 584,293 584,294 584,295 584,298 584,299 584,300 584,302 584,303 584,304 584,305 585,279 585,280 585,281 585,282 585,283 585,284 585,285 585,286 585,288 585,289 585,290 585,291 585,292 585,293 585,296 585,297 585,298 585,299 585,300 585,301 585,302 585,303 585,304 585,306 585,307 585,310 585,315 586,277 586,279 586,280 586,281 586,282 586,283 586,285 586,286 586,288 586,289 586,290 586,291 586,292 586,293 586,294 586,295 586,296 586,297 586,298 586,302 586,303 586,304 586,309 586,310 587,275 587,277 587,281 587,282 587,283 587,285 587,286 587,287 587,288 587,289 587,290 587,291 587,292 587,295 587,296 587,297 587,298 587,299 587,300 587,302 587,303 587,305 587,306 587,307 587,308 587,316 587,323 588,168 588,275 588,276 588,278 588,279 588,280 588,282 588,284 588,286 588,287 588,288 588,289 588,290 588,291 588,292 588,293 588,294 588,295 588,296 588,298 588,299 588,300 588,301 588,303 588,305 588,306 588,308 588,312 588,321 588,323 588,422 589,276 589,277 589,278 589,279 589,282 589,283 589,284 589,285 589,286 589,287 589,288 589,289 589,290 589,291 589,292 589,294 589,295 589,297 589,298 589,299 589,300 589,301 589,302 589,303 589,304 589,305 589,306 589,312 590,275 590,277 590,278 590,279 590,280 590,283 590,284 590,285 590,288 590,289 590,291 590,293 590,295 590,296 590,297 590,298 590,299 590,302 590,303 590,304 590,306 590,307 590,308 590,311 590,314 590,316 590,317 590,318 590,323 590,325 591,273 591,274 591,276 591,277 591,278 591,280 591,281 591,282 591,283 591,284 591,285 591,286 591,288 591,291 591,293 591,294 591,296 591,297 591,298 591,300 591,301 591,302 591,303 591,304 591,306 591,307 591,308 591,309 591,310 591,312 591,316 591,323 591,334 592,274 592,275 592,277 592,278 592,280 592,281 592,282 592,285 592,286 592,287 592,288 592,290 592,291 592,292 592,294 592,295 592,296 592,298 592,299 592,300 592,302 592,303 592,304 592,309 592,310 592,312 592,328 593,278 593,280 593,281 593,283 593,284 593,286 593,287 593,288 593,290 593,293 593,294 593,295 593,296 593,297 593,298 593,300 593,302 593,303 593,304 593,306 593,307 593,308 593,311 593,323 593,334 593,341 593,343 593,346 594,276 594,278 594,279 594,280 594,281 594,282 594,284 594,286 594,287 594,289 594,290 594,291 594,293 594,295 594,296 594,297 594,299 594,301 594,306 594,307 594,309 594,318 595,276 595,277 595,282 595,283 595,284 595,285 595,286 595,287 595,289 595,290 595,292 595,293 595,295 595,296 595,297 595,298 595,299 595,300 595,302 595,303 595,304 595,305 595,309 595,311 595,312 596,271 596,272 596,273 596,274 596,275 596,277 596,278 596,279 596,280 596,281 596,282 596,283 596,284 596,285 596,286 596,287 596,288 596,290 596,291 596,292 596,293 596,294 596,296 596,297 596,299 596,300 596,302 596,305 596,309 596,316 596,318 596,321 596,325 597,275 597,276 597,277 597,278 597,279 597,280 597,281 597,282 597,284 597,285 597,286 597,287 597,288 597,289 597,290 597,291 597,294 597,295 597,296 597,298 597,299 597,300 597,301 597,302 597,304 597,305 597,307 597,309 597,312 598,274 598,275 598,276 598,277 598,279 598,281 598,282 598,283 598,284 598,285 598,287 598,288 598,289 598,290 598,291 598,292 598,293 598,294 598,295 598,296 598,299 598,303 598,304 598,314 598,323 598,325 599,272 599,273 599,274 599,275 599,278 599,279 599,280 599,284 599,285 599,286 599,287 599,288 599,290 599,291 599,292 599,293 599,295 599,296 599,298 599,300 599,302 599,304 599,314 600,272 600,273 600,274 600,275 600,278 600,280 600,281 600,282 600,283 600,284 600,286 600,288 600,291 600,295 600,296 600,297 600,299 600,301 600,302 600,303 600,304 600,306 600,314 600,318 601,262 601,272 601,273 601,274 601,275 601,276 601,278 601,282 601,284 601,285 601,287 601,288 601,289 601,290 601,291 601,292 601,293 601,295 601,296 601,297 601,298 601,300 601,301 601,302 601,303 601,304 601,305 601,306 601,312 601,321 602,268 602,269 602,270 602,272 602,273 602,274 602,275 602,277 602,278 602,280 602,281 602,282 602,283 602,284 602,285 602,286 602,288 602,289 602,290 602,291 602,292 602,293 602,294 602,295 602,296 602,297 602,298 602,299 602,302 602,303 602,305 602,307 602,308 603,272 603,276 603,277 603,278 603,279 603,280 603,281 603,282 603,283 603,284 603,286 603,287 603,288 603,290 603,291 603,293 603,294 603,295 603,297 603,298 603,299 603,300 603,301 603,302 603,304 603,305 603,306 603,308 603,329 604,277 604,278 604,280 604,282 604,284 604,285 604,286 604,287 604,288 604,289 604,291 604,292 604,293 604,294 604,295 604,297 604,300 604,301 604,302 604,303 604,304 604,305 604,306 604,309 604,310 604,321 605,159 605,180 605,283 605,284 605,285 605,286 605,287 605,289 605,290 605,291 605,292 605,293 605,294 605,296 605,297 605,298 605,301 605,302 605,304 605,305 605,306 605,307 605,417 605,422 606,278 606,279 606,280 606,281 606,282 606,283 606,284 606,285 606,286 606,287 606,289 606,290 606,291 606,293 606,294 606,295 606,296 606,297 606,298 606,299 606,300 606,301 606,302 606,303 606,305 606,306 606,307 606,425 607,159 607,273 607,279 607,280 607,282 607,283 607,284 607,285 607,286 607,287 607,290 607,292 607,294 607,296 607,297 607,298 607,299 607,301 607,302 607,303 607,304 607,305 607,306 607,308 607,309 608,150 608,157 608,161 608,275 608,277 608,278 608,279 608,280 608,281 608,283 608,284 608,285 608,287 608,288 608,289 608,290 608,291 608,292 608,294 608,295 608,296 608,297 608,298 608,300 608,301 608,302 608,303 608,306 608,308 608,309 608,310 608,422 608,425 609,272 609,273 609,276 609,279 609,280 609,281 609,284 609,285 609,287 609,288 609,289 609,291 609,292 609,293 609,295 609,296 609,297 609,299 609,301 609,302 609,303 609,304 609,305 609,307 609,308 609,310 609,311 609,315 610,274 610,275 610,276 610,278 610,279 610,282 610,283 610,285 610,287 610,288 610,289 610,290 610,291 610,292 610,293 610,295 610,297 610,298 610,299 610,301 610,302 610,303 610,304 610,305 610,307 611,265 611,274 611,276 611,277 611,278 611,280 611,281 611,282 611,284 611,285 611,286 611,287 611,289 611,290 611,291 611,292 611,293 611,294 611,295 611,296 611,297 611,298 611,299 611,301 611,302 611,304 611,305 611,306 611,307 611,309 611,310 612,273 612,274 612,275 612,276 612,277 612,278 612,279 612,281 612,282 612,284 612,285 612,286 612,288 612,289 612,290 612,292 612,293 612,294 612,296 612,298 612,299 612,300 612,301 612,302 612,303 612,306 612,307 613,168 613,191 613,275 613,277 613,279 613,280 613,284 613,285 613,286 613,288 613,289 613,290 613,292 613,293 613,294 613,295 613,296 613,297 613,298 613,299 613,300 613,303 613,304 613,307 613,417 613,422 614,275 614,276 614,277 614,278 614,279 614,281 614,282 614,284 614,285 614,287 614,288 614,291 614,293 614,297 614,300 614,301 614,304 615,277 615,278 615,279 615,280 615,281 615,282 615,283 615,289 615,290 615,292 615,293 615,294 615,295 615,296 615,297 615,298 615,299 615,300 615,305 615,306 616,142 616,159 616,270 616,272 616,276 616,277 616,278 616,282 616,283 616,284 616,285 616,286 616,287 616,288 616,290 616,292 616,293 616,294 616,295 616,296 616,297 616,298 616,299 616,300 616,302 616,303 616,304 616,306 616,420 616,448 617,271 617,274 617,275 617,281 617,284 617,285 617,286 617,287 617,288 617,289 617,290 617,291 617,292 617,293 617,294 617,295 617,296 617,297 617,298 617,300 617,301 617,302 617,303 617,305 617,307 617,309 617,310 617,311 618,273 618,274 618,275 618,276 618,277 618,278 618,281 618,284 618,285 618,286 618,288 618,289 618,291 618,293 618,294 618,296 618,298 618,299 618,300 618,301 618,303 618,304 618,305 618,306 618,307 618,308 618,309 618,313 618,420 618,448 619,277 619,278 619,279 619,280 619,282 619,284 619,285 619,286 619,287 619,288 619,289 619,290 619,291 619,293 619,294 619,295 619,296 619,297 619,298 619,300 619,301 619,302 619,303 619,304 619,305 619,306 619,308 619,309 619,312 620,202 620,275 620,276 620,279 620,280 620,282 620,283 620,286 620,287 620,288 620,289 620,292 620,293 620,294 620,295 620,296 620,298 620,299 620,300 620,303 620,304 620,305 620,309 620,310 620,311 620,381 621,170 621,275 621,276 621,277 621,278 621,279 621,280 621,281 621,282 621,283 621,287 621,288 621,291 621,292 621,293 621,294 621,295 621,296 621,298 621,299 621,300 621,301 621,304 621,305 621,306 621,307 621,309 621,310 621,311 621,420 622,275 622,276 622,280 622,281 622,283 622,285 622,286 622,287 622,288 622,289 622,290 622,291 622,292 622,293 622,295 622,296 622,298 622,300 622,301 622,303 622,304 622,305 622,306 622,307 622,310 622,311 623,272 623,275 623,276 623,277 623,279 623,281 623,283 623,284 623,286 623,287 623,291 623,292 623,293 623,294 623,295 623,296 623,297 623,298 623,299 623,300 623,301 623,302 623,303 623,304 623,306 623,307 624,275 624,277 624,278 624,280 624,281 624,282 624,283 624,284 624,285 624,287 624,288 624,289 624,291 624,293 624,294 624,295 624,299 624,300 624,302 624,304 624,305 624,306 624,307 624,308 624,310 625,273 625,274 625,276 625,277 625,280 625,281 625,284 625,285 625,286 625,288 625,291 625,292 625,293 625,294 625,295 625,296 625,297 625,299 625,300 625,301 625,302 625,304 625,305 625,307 625,308 626,270 626,273 626,274 626,275 626,276 626,277 626,278 626,279 626,280 626,281 626,282 626,283 626,284 626,285 626,286 626,287 626,289 626,290 626,291 626,292 626,293 626,294 626,295 626,297 626,300 626,301 626,302 626,303 626,304 626,305 626,306 626,307 626,309 626,350 626,375 626,427 627,272 627,273 627,274 627,275 627,277 627,278 627,279 627,280 627,281 627,282 627,283 627,284 627,285 627,286 627,287 627,288 627,289 627,290 627,293 627,294 627,295 627,296 627,297 627,298 627,299 627,301 627,302 627,303 627,304 627,306 627,307 627,309 628,270 628,272 628,275 628,276 628,278 628,279 628,280 628,281 628,283 628,285 628,286 628,288 628,289 628,291 628,292 628,293 628,294 628,295 628,298 628,300 628,301 628,303 628,305 628,307 628,308 628,309 629,267 629,276 629,277 629,280 629,282 629,283 629,284 629,285 629,287 629,289 629,291 629,293 629,294 629,295 629,296 629,298 629,299 629,304 629,306 629,308 630,275 630,278 630,279 630,280 630,281 630,282 630,283 630,285 630,288 630,289 630,290 630,291 630,293 630,294 630,298 630,300 630,302 630,303 630,308 630,309 631,275 631,276 631,277 631,279 631,281 631,283 631,284 631,285 631,287 631,288 631,289 631,290 631,294 631,295 631,296 631,298 631,299 631,302 631,305 631,306 631,308 631,310 632,273 632,274 632,276 632,278 632,279 632,280 632,281 632,282 632,283 632,285 632,287 632,288 632,289 632,290 632,291 632,292 632,294 632,295 632,296 632,297 632,298 632,299 632,301 632,302 632,303 632,304 632,305 632,306 632,307 632,308 632,309 633,270 633,271 633,272 633,273 633,274 633,276 633,277 633,278 633,279 633,280 633,281 633,282 633,283 633,284 633,285 633,286 633,289 633,291 633,292 633,293 633,294 633,295 633,298 633,300 633,301 633,302 633,303 633,305 633,306 633,307 633,311 633,312 633,314 634,275 634,276 634,277 634,283 634,284 634,285 634,286 634,287 634,288 634,290 634,292 634,294 634,295 634,296 634,297 634,298 634,299 634,300 634,301 634,302 634,303 634,304 634,306 634,307 634,308 634,309 634,310 635,272 635,274 635,278 635,280 635,281 635,282 635,283 635,284 635,285 635,286 635,287 635,288 635,289 635,292 635,293 635,294 635,296 635,298 635,299 635,300 635,301 635,302 635,304 635,305 635,310 636,275 636,276 636,277 636,278 636,279 636,280 636,281 636,287 636,288 636,289 636,290 636,291 636,294 636,295 636,297 636,299 636,301 636,303 636,304 636,305 636,306 636,307 636,309 636,315 636,352 636,429 637,158 637,274 637,275 637,277 637,278 637,279 637,280 637,283 637,284 637,285 637,289 637,290 637,291 637,292 637,293 637,294 637,295 637,296 637,297 637,299 637,301 637,302 637,304 637,305 637,306 637,307 637,310 637,417 638,276 638,277 638,278 638,279 638,280 638,281 638,282 638,283 638,284 638,286 638,287 638,288 638,290 638,291 638,292 638,293 638,294 638,296 638,297 638,298 638,299 638,300 638,301 638,303 638,304 638,306 638,308 638,309 638,310 638,425 639,152 639,189 639,275 639,277 639,279 639,281 639,283 639,284 639,285 639,286 639,289 639,290 639,291 639,292 639,293 639,294 639,295 639,296 639,297 639,299 639,300 639,302 639,303 639,304 639,305 639,307 639,308 639,309 639,310 639,392 640,276 640,277 640,280 640,282 640,284 640,285 640,286 640,287 640,288 640,289 640,292 640,295 640,297 640,298 640,299 640,303 640,304 640,305 640,306 640,308 640,328 641,161 641,163 641,166 641,198 641,258 641,277 641,278 641,279 641,280 641,281 641,282 641,283 641,284 641,285 641,286 641,287 641,288 641,289 641,290 641,291 641,293 641,294 641,295 641,297 641,299 641,300 641,301 641,303 641,306 641,309 641,311 641,328 641,421 641,423 641,425 641,427 642,168 642,175 642,178 642,184 642,276 642,278 642,279 642,281 642,282 642,283 642,284 642,285 642,286 642,287 642,291 642,292 642,293 642,294 642,295 642,299 642,300 642,301 642,302 642,304 642,305 642,308 642,309 642,311 642,312 642,314 642,316 642,357 642,419 643,272 643,276 643,278 643,279 643,281 643,283 643,284 643,285 643,286 643,287 643,289 643,290 643,291 643,293 643,294 643,295 643,296 643,297 643,299 643,300 643,301 643,302 643,304 643,305 643,307 643,308 643,310 643,316 643,330 643,337 643,339 643,341 644,278 644,279 644,280 644,281 644,282 644,283 644,284 644,285 644,286 644,287 644,288 644,289 644,291 644,293 644,294 644,295 644,297 644,299 644,301 644,302 644,303 644,304 644,306 644,307 644,309 644,310 644,311 644,355 645,270 645,273 645,275 645,276 645,277 645,278 645,280 645,281 645,282 645,283 645,287 645,288 645,289 645,290 645,291 645,293 645,295 645,296 645,300 645,301 645,302 645,303 645,305 645,307 645,308 645,310 645,312 645,322 645,332 646,272 646,276 646,277 646,278 646,279 646,280 646,281 646,285 646,289 646,291 646,292 646,295 646,296 646,297 646,298 646,300 646,301 646,303 646,305 646,306 646,307 646,308 646,309 646,310 646,312 646,313 646,314 646,315 646,316 646,327 646,337 646,348 646,352 647,189 647,273 647,275 647,276 647,277 647,278 647,279 647,280 647,281 647,282 647,283 647,284 647,287 647,289 647,290 647,291 647,292 647,293 647,295 647,296 647,298 647,299 647,301 647,303 647,305 647,306 647,307 647,308 647,310 647,311 647,312 647,317 647,323 647,327 647,352 647,357 647,361 647,368 647,402 648,274 648,275 648,278 648,279 648,280 648,282 648,283 648,284 648,285 648,286 648,287 648,290 648,291 648,292 648,293 648,294 648,295 648,298 648,300 648,302 648,308 648,309 648,312 648,313 648,315 648,316 648,321 648,330 648,332 648,352 648,375 649,275 649,280 649,282 649,283 649,284 649,286 649,287 649,288 649,289 649,290 649,292 649,294 649,295 649,299 649,300 649,302 649,304 649,307 649,311 649,312 649,317 650,178 650,276 650,278 650,284 650,287 650,288 650,289 650,290 650,294 650,296 650,297 650,300 650,301 650,303 650,304 650,306 650,307 650,308 650,310 650,311 650,312 650,424 651,278 651,280 651,281 651,284 651,286 651,287 651,288 651,289 651,291 651,292 651,293 651,294 651,296 651,297 651,298 651,299 651,303 651,304 651,305 651,308 651,311 651,312 651,313 651,315 652,276 652,277 652,278 652,279 652,280 652,282 652,283 652,284 652,285 652,286 652,287 652,288 652,291 652,292 652,294 652,296 652,297 652,298 652,299 652,300 652,302 652,304 652,305 652,306 652,307 652,308 652,309 652,310 652,311 652,312 652,313 652,314 653,271 653,274 653,278 653,279 653,280 653,282 653,283 653,284 653,285 653,286 653,288 653,289 653,292 653,293 653,294 653,295 653,296 653,297 653,298 653,299 653,303 653,304 653,307 653,308 653,309 653,311 653,313 653,314 653,315 653,316 653,317 653,319 653,320 654,279 654,282 654,283 654,284 654,285 654,286 654,287 654,288 654,290 654,291 654,293 654,294 654,295 654,299 654,300 654,302 654,303 654,304 654,305 654,306 654,307 654,308 654,309 654,311 654,312 654,314 654,315 654,316 654,317 654,318 655,284 655,287 655,288 655,290 655,291 655,292 655,293 655,294 655,297 655,298 655,299 655,300 655,302 655,303 655,305 655,306 655,307 655,308 655,310 655,313 655,315 655,316 655,318 656,287 656,288 656,289 656,290 656,292 656,294 656,298 656,299 656,300 656,301 656,304 656,306 656,307 656,309 656,310 656,311 656,312 656,314 656,315 656,316 657,283 657,284 657,285 657,286 657,288 657,290 657,291 657,292 657,294 657,297 657,298 657,299 657,300 657,301 657,302 657,303 657,305 657,307 657,308 657,310 657,313 657,317 657,318 658,282 658,283 658,284 658,285 658,286 658,288 658,290 658,291 658,293 658,294 658,295 658,296 658,297 658,299 658,300 658,301 658,303 658,305 658,306 658,307 658,308 658,310 658,313 658,314 658,315 658,317 658,318 658,319 658,320 658,321 659,280 659,282 659,283 659,285 659,288 659,290 659,291 659,292 659,293 659,294 659,295 659,297 659,298 659,299 659,300 659,301 659,302 659,303 659,304 659,305 659,307 659,308 659,311 659,312 659,315 659,317 659,318 659,320 659,321 659,323 659,324 660,282 660,283 660,284 660,286 660,289 660,290 660,291 660,293 660,294 660,295 660,296 660,297 660,298 660,299 660,302 660,303 660,304 660,306 660,307 660,308 660,309 660,310 660,311 660,313 660,314 660,315 660,316 660,318 660,319 660,321 661,177 661,179 661,182 661,184 661,193 661,284 661,285 661,287 661,288 661,289 661,290 661,292 661,294 661,295 661,297 661,298 661,299 661,300 661,301 661,302 661,304 661,305 661,306 661,308 661,309 661,310 661,311 661,312 661,313 661,314 661,316 661,318 661,412 661,417 661,424 661,426 662,283 662,286 662,289 662,290 662,291 662,292 662,293 662,294 662,295 662,296 662,297 662,298 662,299 662,301 662,302 662,303 662,305 662,308 662,309 662,310 662,311 662,312 662,313 662,314 662,318 663,285 663,286 663,287 663,290 663,293 663,295 663,297 663,298 663,299 663,301 663,303 663,304 663,305 663,306 663,308 663,309 663,310 663,311 663,312 663,317 663,318 663,319 664,286 664,287 664,288 664,289 664,290 664,292 664,294 664,295 664,296 664,297 664,298 664,299 664,302 664,303 664,304 664,305 664,307 664,308 664,311 664,312 664,314 664,316 665,178 665,186 665,189 665,191 665,198 665,287 665,290 665,293 665,294 665,295 665,296 665,297 665,298 665,300 665,304 665,306 665,308 665,315 665,317 665,319 665,321 665,412 665,417 665,422 665,424 666,286 666,289 666,290 666,291 666,292 666,295 666,296 666,298 666,299 666,301 666,303 666,304 666,307 666,308 666,309 666,310 666,311 666,312 666,317 666,318 666,320 666,323 667,170 667,178 667,186 667,191 667,200 667,287 667,289 667,291 667,294 667,297 667,298 667,299 667,300 667,301 667,302 667,303 667,304 667,305 667,306 667,307 667,308 667,309 667,310 667,311 667,312 667,313 667,314 667,316 667,318 667,319 667,320 667,420 667,427 667,429 667,438 668,280 668,284 668,287 668,288 668,289 668,290 668,291 668,292 668,294 668,295 668,296 668,297 668,299 668,302 668,303 668,306 668,307 668,308 668,309 668,311 668,312 668,314 668,315 668,316 668,317 668,318 668,319 668,320 668,321 668,322 668,323 668,326 669,280 669,285 669,286 669,287 669,288 669,289 669,290 669,291 669,292 669,293 669,294 669,297 669,298 669,299 669,300 669,301 669,302 669,303 669,304 669,309 669,310 669,311 669,313 669,314 669,315 669,316 669,318 669,319 669,320 670,180 670,184 670,186 670,188 670,194 670,283 670,286 670,287 670,288 670,290 670,291 670,293 670,294 670,297 670,299 670,300 670,301 670,304 670,305 670,306 670,307 670,308 670,309 670,310 670,311 670,312 670,313 670,314 670,315 670,316 670,317 670,318 670,319 670,396 670,417 670,425 671,284 671,285 671,288 671,289 671,290 671,293 671,294 671,297 671,298 671,299 671,300 671,301 671,303 671,305 671,308 671,309 671,310 671,311 671,314 671,315 671,317 671,318 672,284 672,287 672,290 672,292 672,293 672,295 672,296 672,297 672,298 672,299 672,300 672,301 672,303 672,304 672,305 672,306 672,307 672,308 672,310 672,313 672,315 672,317 673,276 673,285 673,286 673,287 673,288 673,289 673,295 673,299 673,301 673,302 673,303 673,304 673,305 673,306 673,307 673,308 673,309 673,310 673,311 673,314 673,315 673,316 673,317 673,319 673,321 673,427 674,276 674,283 674,287 674,289 674,291 674,292 674,293 674,294 674,295 674,297 674,298 674,299 674,300 674,304 674,305 674,307 674,308 674,309 674,310 674,311 674,312 674,313 674,314 674,315 674,316 674,317 674,318 674,362 674,365 675,283 675,284 675,287 675,288 675,289 675,290 675,291 675,292 675,293 675,294 675,295 675,296 675,297 675,298 675,299 675,303 675,304 675,305 675,306 675,308 675,312 675,313 675,315 675,317 675,318 676,168 676,178 676,184 676,283 676,284 676,286 676,288 676,292 676,293 676,294 676,295 676,296 676,297 676,298 676,299 676,300 676,302 676,303 676,304 676,305 676,306 676,307 676,309 676,310 676,313 676,315 676,316 676,318 676,347 676,425 676,427 676,429 677,283 677,284 677,285 677,287 677,289 677,291 677,293 677,294 677,295 677,296 677,297 677,298 677,299 677,300 677,301 677,302 677,303 677,304 677,305 677,306 677,307 677,308 677,309 677,310 677,311 677,312 677,313 677,314 677,315 677,318 677,319 678,282 678,286 678,287 678,288 678,289 678,290 678,291 678,292 678,293 678,294 678,295 678,296 678,299 678,300 678,301 678,302 678,303 678,304 678,305 678,306 678,307 678,308 678,309 678,310 678,312 678,315 678,317 678,318 678,319 678,320 678,323 679,286 679,288 679,289 679,290 679,291 679,292 679,296 679,300 679,301 679,302 679,303 679,304 679,305 679,306 679,307 679,308 679,309 679,311 679,312 679,314 679,315 679,319 679,321 679,326 680,189 680,193 680,288 680,291 680,292 680,294 680,295 680,298 680,299 680,300 680,301 680,302 680,303 680,307 680,309 680,311 680,313 680,315 680,317 680,319 680,326 680,413 680,425 680,429 681,195 681,289 681,295 681,296 681,297 681,299 681,300 681,301 681,302 681,303 681,305 681,306 681,307 681,308 681,309 681,311 681,312 681,315 681,316 681,318 681,415 682,287 682,288 682,289 682,290 682,297 682,298 682,299 682,300 682,302 682,303 682,304 682,305 682,306 682,308 682,310 682,311 682,313 682,314 682,315 682,317 682,319 682,320 682,322 683,159 683,173 683,282 683,283 683,285 683,286 683,288 683,289 683,290 683,291 683,293 683,294 683,295 683,296 683,297 683,298 683,299 683,300 683,301 683,302 683,304 683,308 683,309 683,310 683,311 683,312 683,314 683,315 683,316 683,317 683,318 683,320 683,321 683,327 683,332 683,340 683,419 683,421 683,438 684,182 684,282 684,283 684,284 684,285 684,286 684,287 684,288 684,289 684,290 684,291 684,294 684,295 684,296 684,297 684,298 684,299 684,300 684,301 684,302 684,303 684,305 684,306 684,307 684,308 684,310 684,312 684,313 684,314 684,315 684,316 684,317 684,319 684,328 685,285 685,286 685,287 685,288 685,289 685,290 685,291 685,292 685,293 685,294 685,296 685,297 685,298 685,299 685,300 685,301 685,302 685,303 685,304 685,305 685,308 685,309 685,310 685,311 685,314 685,315 685,317 685,319 686,285 686,288 686,289 686,290 686,291 686,296 686,297 686,298 686,299 686,300 686,301 686,303 686,305 686,306 686,308 686,309 686,311 686,312 686,314 686,316 686,319 687,285 687,288 687,289 687,290 687,291 687,292 687,293 687,295 687,296 687,297 687,299 687,300 687,301 687,302 687,305 687,306 687,307 687,311 687,312 687,314 687,316 688,277 688,283 688,284 688,285 688,286 688,288 688,290 688,291 688,292 688,294 688,295 688,297 688,298 688,300 688,301 688,302 688,303 688,304 688,307 688,308 688,310 688,311 688,312 688,313 688,314 688,315 688,316 688,320 689,283 689,284 689,286 689,289 689,290 689,292 689,293 689,294 689,295 689,296 689,297 689,298 689,299 689,300 689,301 689,302 689,304 689,306 689,307 689,311 689,312 689,313 689,317 689,320 689,321 689,322 689,324 689,331 690,288 690,289 690,290 690,291 690,292 690,293 690,294 690,295 690,296 690,297 690,301 690,302 690,303 690,304 690,305 690,306 690,309 690,310 690,311 690,312 690,316 690,318 690,320 690,321 690,323 690,324 690,325 690,412 690,432 691,191 691,207 691,228 691,290 691,292 691,293 691,296 691,298 691,300 691,301 691,302 691,303 691,304 691,305 691,306 691,309 691,310 691,312 691,317 691,318 691,319 691,320 691,323 691,324 691,325 691,326 691,385 691,422 691,424 691,429 691,434 692,289 692,297 692,298 692,301 692,302 692,303 692,304 692,305 692,306 692,307 692,308 692,310 692,311 692,312 692,313 692,314 692,315 692,317 692,318 692,323 692,324 692,325 692,326 692,327 692,328 693,293 693,294 693,295 693,296 693,297 693,299 693,301 693,302 693,303 693,305 693,307 693,309 693,310 693,311 693,312 693,313 693,317 693,319 693,321 693,322 693,323 693,327 693,329 693,330 693,334 694,293 694,299 694,300 694,302 694,304 694,305 694,306 694,307 694,308 694,309 694,310 694,313 694,315 694,316 694,317 694,319 694,320 694,321 694,322 694,323 694,324 694,326 694,327 694,328 694,329 694,330 694,332 695,297 695,298 695,299 695,300 695,302 695,303 695,304 695,305 695,306 695,307 695,309 695,311 695,312 695,313 695,314 695,315 695,316 695,318 695,319 695,321 695,322 695,323 695,324 695,325 695,328 695,330 695,331 695,332 696,294 696,296 696,297 696,298 696,301 696,302 696,304 696,305 696,310 696,313 696,314 696,315 696,316 696,318 696,319 696,320 696,321 696,322 696,324 696,325 696,326 696,327 696,329 697,294 697,296 697,297 697,299 697,300 697,301 697,302 697,304 697,305 697,306 697,307 697,308 697,309 697,311 697,312 697,313 697,315 697,316 697,317 697,318 697,320 697,321 697,322 697,323 697,325 697,327 697,329 697,330 697,331 698,292 698,294 698,295 698,296 698,299 698,301 698,302 698,303 698,304 698,305 698,307 698,308 698,310 698,311 698,312 698,313 698,314 698,316 698,317 698,319 698,320 698,321 698,322 698,323 698,325 698,326 698,327 698,328 698,330 699,294 699,295 699,296 699,297 699,298 699,299 699,300 699,301 699,302 699,303 699,304 699,306 699,308 699,309 699,310 699,311 699,312 699,314 699,315 699,316 699,317 699,322 699,323 699,325 700,295 700,296 700,297 700,300 700,301 700,302 700,303 700,305 700,307 700,308 700,309 700,313 700,314 700,316 700,317 700,318 700,319 700,320 700,321 700,322 700,324 700,325 700,327 701,188 701,194 701,293 701,296 701,297 701,298 701,299 701,300 701,303 701,304 701,305 701,307 701,308 701,309 701,310 701,311 701,313 701,314 701,315 701,316 701,318 701,320 701,321 701,322 701,325 701,412 701,427 702,292 702,293 702,294 702,295 702,302 702,304 702,307 702,308 702,309 702,310 702,312 702,314 702,315 702,318 702,319 702,320 702,321 702,322 702,323 702,324 702,327 702,328 702,331 703,184 703,203 703,217 703,294 703,295 703,296 703,297 703,298 703,299 703,300 703,301 703,303 703,304 703,305 703,306 703,308 703,311 703,312 703,313 703,315 703,316 703,319 703,321 703,322 703,323 703,325 703,326 703,328 703,329 703,330 703,332 703,341 703,413 703,417 703,436 704,193 704,295 704,296 704,298 704,299 704,300 704,301 704,302 704,303 704,304 704,307 704,308 704,310 704,311 704,312 704,313 704,314 704,315 704,316 704,317 704,318 704,320 704,321 704,322 704,323 704,324 704,325 704,327 704,329 704,330 704,332 704,333 704,440 705,297 705,299 705,300 705,301 705,302 705,303 705,304 705,305 705,306 705,307 705,308 705,311 705,312 705,314 705,315 705,316 705,317 705,321 705,324 705,325 705,328 705,330 705,331 706,302 706,303 706,304 706,306 706,311 706,313 706,316 706,318 706,319 706,320 706,322 706,325 706,328 706,329 706,331 706,333 707,302 707,303 707,304 707,305 707,307 707,312 707,315 707,317 707,320 707,322 707,323 707,324 707,327 707,331 707,332 707,334 707,335 708,298 708,303 708,304 708,305 708,309 708,311 708,312 708,313 708,316 708,317 708,318 708,320 708,321 708,323 708,324 708,325 708,327 708,328 708,329 708,330 708,332 708,333 708,334 709,299 709,300 709,301 709,302 709,303 709,304 709,305 709,306 709,307 709,309 709,310 709,311 709,312 709,313 709,315 709,317 709,318 709,319 709,320 709,321 709,323 709,324 709,325 709,326 709,327 709,328 709,331 709,332 709,333 709,335 709,336 709,338 709,340 710,301 710,302 710,303 710,306 710,307 710,309 710,310 710,311 710,312 710,313 710,314 710,315 710,316 710,317 710,318 710,319 710,320 710,321 710,323 710,324 710,325 710,326 710,329 710,330 710,331 710,332 710,333 710,334 710,335 710,336 710,337 711,299 711,300 711,302 711,303 711,305 711,307 711,309 711,310 711,312 711,313 711,314 711,316 711,317 711,321 711,323 711,324 711,325 711,326 711,327 711,328 711,329 711,330 711,331 711,332 711,333 711,335 711,336 711,337 711,338 711,340 712,208 712,263 712,301 712,302 712,303 712,305 712,306 712,307 712,308 712,309 712,310 712,311 712,312 712,313 712,314 712,316 712,317 712,318 712,319 712,320 712,321 712,323 712,326 712,328 712,331 712,333 712,334 712,397 712,431 713,188 713,212 713,300 713,302 713,303 713,304 713,305 713,307 713,308 713,311 713,312 713,315 713,317 713,320 713,321 713,322 713,323 713,324 713,325 713,327 713,328 713,329 713,330 713,331 713,335 713,336 713,337 713,424 713,450 714,198 714,224 714,299 714,301 714,304 714,305 714,306 714,307 714,308 714,309 714,310 714,311 714,312 714,313 714,314 714,319 714,320 714,321 714,322 714,323 714,324 714,325 714,327 714,328 714,330 714,333 714,334 714,336 714,337 714,399 714,429 715,301 715,302 715,304 715,305 715,306 715,308 715,309 715,311 715,313 715,314 715,315 715,316 715,319 715,321 715,323 715,324 715,325 715,327 715,329 715,332 715,333 715,334 715,335 715,336 715,340 716,131 716,304 716,305 716,306 716,307 716,309 716,313 716,314 716,315 716,316 716,317 716,318 716,320 716,325 716,326 716,327 716,328 716,329 716,330 716,331 716,336 716,340 717,307 717,308 717,309 717,310 717,311 717,312 717,313 717,314 717,315 717,316 717,317 717,318 717,319 717,321 717,324 717,325 717,326 717,327 717,328 717,330 717,332 717,334 717,336 717,337 717,338 717,341 718,158 718,182 718,184 718,189 718,198 718,303 718,305 718,306 718,307 718,308 718,309 718,311 718,312 718,313 718,314 718,316 718,317 718,319 718,320 718,321 718,323 718,324 718,326 718,327 718,328 718,329 718,330 718,332 718,333 718,335 718,336 718,338 718,339 718,340 718,341 718,345 718,419 718,425 718,429 718,431 718,433 718,450 719,177 719,302 719,305 719,308 719,309 719,310 719,312 719,313 719,318 719,319 719,320 719,321 719,323 719,324 719,326 719,327 719,328 719,330 719,331 719,333 719,334 719,337 719,338 719,339 719,340 719,341 719,344 719,345 719,347 719,421 719,445 720,182 720,186 720,188 720,190 720,302 720,305 720,308 720,309 720,310 720,312 720,314 720,316 720,317 720,318 720,319 720,320 720,323 720,324 720,325 720,327 720,328 720,329 720,330 720,333 720,334 720,335 720,336 720,337 720,338 720,340 720,342 720,343 720,345 720,425 720,429 720,457 721,202 721,204 721,300 721,303 721,305 721,306 721,308 721,310 721,312 721,313 721,314 721,315 721,316 721,317 721,319 721,322 721,325 721,327 721,328 721,330 721,332 721,334 721,335 721,337 721,339 721,340 721,341 721,342 722,305 722,307 722,309 722,310 722,311 722,313 722,314 722,317 722,319 722,321 722,326 722,327 722,330 722,331 722,332 722,334 722,335 722,337 722,339 722,342 722,425 722,429 723,303 723,304 723,305 723,306 723,307 723,309 723,311 723,312 723,315 723,316 723,318 723,319 723,321 723,322 723,325 723,326 723,327 723,330 723,331 723,333 723,334 723,337 723,342 723,366 724,198 724,298 724,299 724,303 724,304 724,305 724,306 724,309 724,312 724,313 724,317 724,319 724,321 724,323 724,325 724,326 724,327 724,328 724,330 724,332 724,334 724,335 724,336 724,338 724,339 724,340 724,341 724,343 724,344 724,345 724,350 724,438 725,298 725,301 725,302 725,304 725,307 725,308 725,309 725,310 725,311 725,312 725,313 725,315 725,316 725,318 725,320 725,323 725,324 725,325 725,326 725,327 725,328 725,329 725,330 725,331 725,334 725,336 725,338 725,341 725,359 725,361 726,300 726,301 726,302 726,303 726,304 726,306 726,307 726,308 726,310 726,311 726,312 726,314 726,318 726,319 726,322 726,324 726,325 726,326 726,328 726,329 726,330 726,331 726,332 726,333 726,334 726,336 726,337 726,339 726,342 726,366 727,300 727,301 727,302 727,304 727,305 727,306 727,307 727,308 727,309 727,311 727,312 727,313 727,314 727,315 727,316 727,317 727,319 727,322 727,324 727,326 727,328 727,330 727,331 727,334 727,335 727,337 727,338 727,339 727,340 727,341 727,343 727,364 728,303 728,304 728,305 728,306 728,307 728,308 728,309 728,310 728,312 728,313 728,314 728,315 728,318 728,320 728,321 728,322 728,325 728,326 728,329 728,330 728,331 728,332 728,333 728,334 728,335 728,336 728,338 728,340 728,341 728,343 728,350 728,352 728,357 729,302 729,303 729,304 729,305 729,306 729,307 729,308 729,309 729,311 729,313 729,314 729,315 729,316 729,317 729,318 729,320 729,323 729,324 729,325 729,326 729,327 729,328 729,330 729,335 729,338 729,339 729,340 729,341 730,304 730,308 730,310 730,313 730,315 730,316 730,318 730,319 730,321 730,323 730,324 730,325 730,327 730,328 730,329 730,330 730,332 730,333 730,336 730,337 730,340 730,341 730,342 730,343 730,349 731,267 731,305 731,306 731,307 731,309 731,314 731,315 731,316 731,317 731,319 731,320 731,321 731,326 731,327 731,329 731,331 731,333 731,335 731,337 731,338 731,340 731,341 731,353 732,303 732,306 732,307 732,308 732,311 732,312 732,313 732,317 732,318 732,320 732,322 732,323 732,326 732,328 732,329 732,332 732,336 732,339 732,341 732,343 732,345 733,302 733,304 733,305 733,307 733,308 733,309 733,311 733,312 733,314 733,315 733,316 733,317 733,321 733,323 733,324 733,325 733,326 733,327 733,328 733,330 733,331 733,332 733,333 733,334 733,335 733,336 733,341 733,342 733,343 733,345 733,347 733,361 734,189 734,198 734,302 734,303 734,304 734,305 734,306 734,307 734,308 734,309 734,310 734,316 734,317 734,318 734,319 734,320 734,322 734,323 734,325 734,326 734,329 734,330 734,331 734,332 734,333 734,334 734,336 734,337 734,338 734,339 734,340 734,342 734,344 734,425 734,459 735,276 735,300 735,301 735,302 735,303 735,305 735,306 735,307 735,308 735,310 735,311 735,313 735,316 735,318 735,319 735,320 735,321 735,322 735,323 735,325 735,326 735,327 735,329 735,331 735,333 735,334 735,335 735,336 735,338 735,339 735,341 735,343 735,370 736,305 736,308 736,309 736,310 736,312 736,313 736,315 736,316 736,319 736,320 736,323 736,324 736,325 736,326 736,328 736,329 736,330 736,333 736,334 736,335 736,336 736,339 736,340 736,342 736,343 736,344 736,351 736,364 737,307 737,308 737,310 737,311 737,312 737,313 737,314 737,317 737,320 737,321 737,323 737,325 737,326 737,328 737,329 737,330 737,332 737,334 737,337 737,338 737,339 737,341 737,343 737,350 738,305 738,306 738,307 738,309 738,311 738,313 738,314 738,318 738,319 738,320 738,322 738,324 738,328 738,330 738,331 738,332 738,333 738,334 738,335 738,337 738,339 739,302 739,305 739,306 739,308 739,309 739,310 739,311 739,312 739,313 739,314 739,315 739,317 739,319 739,322 739,325 739,326 739,327 739,328 739,333 739,334 739,335 739,336 739,337 739,338 739,339 739,342 739,343 740,289 740,304 740,305 740,306 740,307 740,309 740,310 740,311 740,312 740,314 740,315 740,316 740,319 740,320 740,322 740,323 740,324 740,326 740,327 740,328 740,329 740,330 740,331 740,332 740,334 740,335 740,338 740,339 740,342 740,343 740,344 740,345 740,348 741,280 741,305 741,306 741,307 741,309 741,310 741,312 741,313 741,316 741,317 741,318 741,319 741,320 741,321 741,322 741,325 741,328 741,329 741,331 741,332 741,333 741,336 741,338 741,339 741,342 741,343 741,346 741,350 741,354 742,304 742,306 742,307 742,310 742,311 742,314 742,315 742,316 742,318 742,319 742,321 742,323 742,324 742,325 742,327 742,328 742,329 742,331 742,332 742,335 742,337 742,340 742,341 742,342 742,343 742,345 742,346 742,347 742,359 743,304 743,307 743,309 743,310 743,311 743,312 743,313 743,316 743,317 743,318 743,319 743,320 743,321 743,322 743,324 743,326 743,328 743,330 743,331 743,332 743,333 743,335 743,337 743,338 743,341 743,342 743,343 743,355 744,219 744,271 744,301 744,307 744,308 744,309 744,310 744,312 744,313 744,314 744,315 744,317 744,318 744,319 744,320 744,323 744,324 744,326 744,329 744,330 744,332 744,333 744,334 744,335 744,338 744,339 744,340 744,341 744,345 744,355 744,364 744,380 744,434 745,302 745,303 745,304 745,305 745,309 745,310 745,315 745,316 745,319 745,321 745,323 745,324 745,325 745,326 745,327 745,328 745,329 745,330 745,331 745,332 745,333 745,334 745,336 745,337 745,340 745,341 745,342 745,343 745,344 745,345 745,350 746,302 746,303 746,304 746,305 746,306 746,308 746,309 746,310 746,311 746,312 746,313 746,315 746,316 746,318 746,322 746,323 746,324 746,325 746,326 746,327 746,330 746,332 746,335 746,336 746,338 746,339 746,343 746,347 746,348 747,299 747,304 747,306 747,307 747,308 747,312 747,313 747,314 747,315 747,316 747,318 747,319 747,321 747,323 747,324 747,326 747,327 747,328 747,329 747,330 747,332 747,333 747,334 747,335 747,339 747,342 747,344 747,351 747,361 748,302 748,303 748,304 748,305 748,306 748,308 748,309 748,310 748,314 748,315 748,316 748,318 748,319 748,320 748,321 748,324 748,325 748,326 748,327 748,333 748,334 748,336 748,340 748,342 748,343 748,346 749,301 749,302 749,303 749,304 749,305 749,307 749,308 749,309 749,310 749,315 749,318 749,322 749,324 749,325 749,326 749,327 749,328 749,329 749,330 749,333 749,335 749,336 749,340 749,342 749,350 749,364 750,297 750,298 750,301 750,303 750,305 750,312 750,314 750,315 750,317 750,319 750,320 750,321 750,322 750,323 750,324 750,325 750,326 750,327 750,329 750,331 750,332 750,333 750,334 750,335 750,336 750,337 750,340 750,342 750,343 750,344 750,359 751,303 751,304 751,306 751,309 751,310 751,311 751,312 751,314 751,315 751,316 751,317 751,319 751,320 751,322 751,323 751,325 751,326 751,328 751,329 751,331 751,333 751,334 751,350 752,293 752,294 752,299 752,300 752,301 752,304 752,307 752,308 752,310 752,311 752,316 752,318 752,319 752,320 752,321 752,324 752,325 752,326 752,327 752,328 752,330 752,331 752,332 752,334 752,335 752,336 752,339 752,341 752,346 753,297 753,298 753,299 753,300 753,301 753,303 753,304 753,305 753,306 753,308 753,309 753,311 753,313 753,314 753,315 753,316 753,317 753,318 753,319 753,320 753,322 753,323 753,324 753,325 753,327 753,330 753,331 753,333 753,334 753,335 753,336 753,337 753,340 753,341 754,286 754,294 754,297 754,298 754,300 754,301 754,302 754,303 754,304 754,306 754,308 754,309 754,310 754,312 754,313 754,314 754,318 754,319 754,320 754,321 754,322 754,324 754,325 754,326 754,327 754,328 754,329 754,330 754,332 754,334 754,336 754,337 754,339 754,340 754,341 754,342 754,343 754,345 754,347 755,285 755,291 755,292 755,293 755,295 755,296 755,297 755,299 755,301 755,303 755,305 755,307 755,308 755,309 755,312 755,313 755,314 755,318 755,319 755,320 755,321 755,324 755,328 755,329 755,332 755,334 755,335 755,336 755,337 755,338 755,339 755,340 755,341 755,342 755,343 755,344 755,345 756,246 756,288 756,292 756,294 756,295 756,296 756,298 756,301 756,302 756,304 756,306 756,311 756,312 756,316 756,319 756,320 756,324 756,325 756,326 756,328 756,330 756,332 756,333 756,335 756,336 756,337 756,338 756,352 757,294 757,296 757,298 757,299 757,301 757,306 757,311 757,315 757,316 757,319 757,320 757,324 757,326 757,328 757,331 757,333 757,334 757,352 758,287 758,290 758,297 758,298 758,301 758,302 758,304 758,305 758,309 758,310 758,312 758,314 758,318 758,319 758,323 758,324 758,325 758,326 758,328 758,330 758,336 758,338 758,339 758,361 759,272 759,286 759,290 759,293 759,294 759,295 759,296 759,298 759,303 759,304 759,305 759,306 759,307 759,308 759,309 759,310 759,312 759,313 759,315 759,318 759,320 759,325 759,326 759,327 759,331 759,333 759,334 759,337 759,338 759,341 760,266 760,282 760,283 760,284 760,285 760,287 760,289 760,290 760,292 760,294 760,295 760,297 760,298 760,301 760,302 760,303 760,305 760,306 760,307 760,310 760,311 760,313 760,315 760,316 760,317 760,318 760,319 760,320 760,321 760,322 760,324 760,325 760,328 760,331 760,332 760,333 760,334 760,335 760,337 760,338 761,270 761,282 761,283 761,285 761,287 761,288 761,289 761,293 761,296 761,297 761,298 761,299 761,301 761,302 761,304 761,305 761,306 761,308 761,310 761,311 761,312 761,313 761,317 761,319 761,320 761,321 761,322 761,323 761,325 761,327 761,329 761,332 761,333 761,334 761,335 761,336 761,338 761,352 761,355 761,357 762,288 762,290 762,291 762,292 762,295 762,296 762,300 762,303 762,306 762,309 762,313 762,314 762,315 762,318 762,319 762,321 762,322 762,324 762,325 762,327 762,328 762,330 762,333 762,336 762,338 763,287 763,289 763,292 763,293 763,297 763,298 763,304 763,306 763,308 763,309 763,311 763,313 763,314 763,316 763,317 763,318 763,320 763,321 763,322 763,325 763,326 763,327 763,328 763,330 763,331 763,332 763,334 763,361 763,366 764,286 764,289 764,291 764,293 764,294 764,295 764,299 764,300 764,302 764,305 764,309 764,310 764,314 764,315 764,316 764,317 764,319 764,320 764,321 764,323 764,326 764,327 764,328 764,331 764,332 764,337 764,339 764,340 764,341" fill="none" stroke="none" marker-start="url(#m)" marker-mid="url(#m)" marker-end="url(#m)"/>
<g font-family="'Liberation Serif', 'Times New Roman', serif" fill="#000" stroke="#000" stroke-width="0.2">
<text transform="translate(487.8 70.6) scale(1.063 1)" font-size="18.8" text-anchor="middle" xml:space="preserve">Record:  e203b</text>
<text transform="translate(488.4 636) scale(1.066 1)" font-size="18.8" text-anchor="middle">Time (hour)</text>
<text transform="translate(100.1 332.5) rotate(-90) scale(1.074 1)" font-size="18.8" text-anchor="middle">RR Interval (second)</text>
<text transform="translate(158.6 565.1) scale(.965 1)" font-size="18.3" text-anchor="end">0.0</text>
<text transform="translate(158.6 452.1) scale(.965 1)" font-size="18.3" text-anchor="end">0.5</text>
<text transform="translate(158.6 339.1) scale(.965 1)" font-size="18.3" text-anchor="end">1.0</text>
<text transform="translate(158.6 226.1) scale(.965 1)" font-size="18.3" text-anchor="end">1.5</text>
<text transform="translate(158.6 113.1) scale(.965 1)" font-size="18.3" text-anchor="end">2.0</text>
<text transform="translate(171.5 585) scale(.965 1)" font-size="18.3" text-anchor="middle">0</text>
<text transform="translate(298.1 585) scale(.965 1)" font-size="18.3" text-anchor="middle">5</text>
<text transform="translate(424.7 585) scale(.965 1)" font-size="18.3" text-anchor="middle">10</text>
<text transform="translate(551.4 585) scale(.965 1)" font-size="18.3" text-anchor="middle">15</text>
<text transform="translate(678.0 585) scale(.965 1)" font-size="18.3" text-anchor="middle">20</text>
<text transform="translate(804.6 585) scale(.965 1)" font-size="18.3" text-anchor="middle">25</text>
</g>
</svg>
</body></html>
